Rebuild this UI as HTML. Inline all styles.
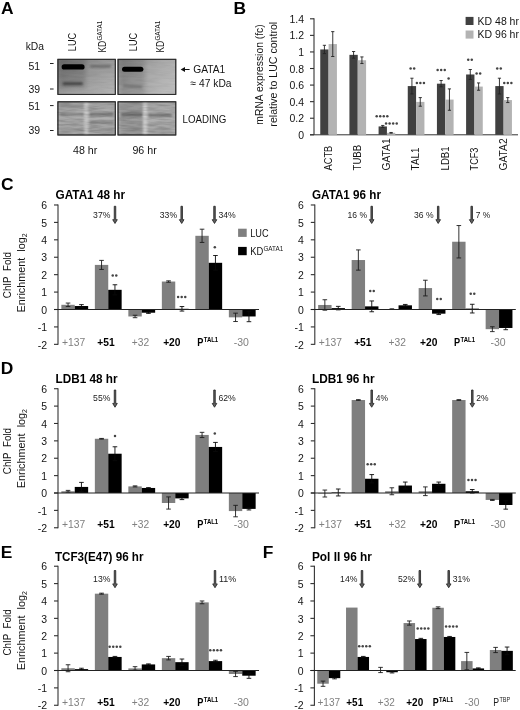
<!DOCTYPE html>
<html><head><meta charset="utf-8"><title>Figure</title>
<style>html,body{margin:0;padding:0;background:#fff;}svg{display:block;filter:grayscale(1);}svg text{font-family:"Liberation Sans",sans-serif;}</style></head>
<body>
<svg width="520" height="710" viewBox="0 0 520 710" font-family="Liberation Sans, sans-serif">
<defs>
<filter id="b1" x="-20%" y="-100%" width="140%" height="300%"><feGaussianBlur stdDeviation="0.7"/></filter>
<filter id="b2" x="-20%" y="-100%" width="140%" height="300%"><feGaussianBlur stdDeviation="1.1"/></filter>
<filter id="b4" x="-30%" y="-30%" width="160%" height="160%"><feGaussianBlur stdDeviation="2.2"/></filter>
<clipPath id="cu1"><rect x="57.9" y="59.4" width="57.4" height="35"/></clipPath><clipPath id="cu2"><rect x="118" y="59.4" width="57.8" height="35"/></clipPath>
<clipPath id="cl1"><rect x="57.9" y="101.8" width="57.4" height="33.2"/></clipPath><clipPath id="cl2"><rect x="118" y="101.8" width="57.8" height="33.2"/></clipPath>
<filter id="nz" x="0" y="0" width="100%" height="100%"><feTurbulence type="fractalNoise" baseFrequency="0.07 0.5" numOctaves="2" seed="7" result="t"/><feColorMatrix in="t" type="matrix" values="0 0 0 0 0  0 0 0 0 0  0 0 0 0 0  1.6 0 0 0 -0.55"/></filter>
<filter id="b3" x="-50%" y="-20%" width="200%" height="140%"><feGaussianBlur stdDeviation="1.2"/></filter>
<linearGradient id="gu1" x1="0" y1="0" x2="1" y2="1"><stop offset="0" stop-color="#757575"/><stop offset="0.45" stop-color="#989898"/><stop offset="1" stop-color="#b6b6b6"/></linearGradient>
<linearGradient id="gu2" x1="0" y1="0" x2="1" y2="0.6"><stop offset="0" stop-color="#858585"/><stop offset="0.4" stop-color="#a2a2a2"/><stop offset="1" stop-color="#bababa"/></linearGradient>
<linearGradient id="gl1" x1="0" y1="0" x2="0" y2="1"><stop offset="0" stop-color="#a6a6a6"/><stop offset="0.5" stop-color="#b0b0b0"/><stop offset="1" stop-color="#a8a8a8"/></linearGradient>
</defs>
<rect x="0" y="0" width="520" height="710" fill="#ffffff"/>
<text x="1.0" y="14.2" font-size="17.4" text-anchor="start" font-weight="bold" fill="#000">A</text>
<text x="233.5" y="14.0" font-size="17.4" text-anchor="start" font-weight="bold" fill="#000">B</text>
<text x="1.0" y="189.8" font-size="17.4" text-anchor="start" font-weight="bold" fill="#000">C</text>
<text x="0.8" y="373.6" font-size="17.4" text-anchor="start" font-weight="bold" fill="#000">D</text>
<text x="0.8" y="557.6" font-size="17.4" text-anchor="start" font-weight="bold" fill="#000">E</text>
<text x="262.7" y="557.6" font-size="17.4" text-anchor="start" font-weight="bold" fill="#000">F</text>
<text x="25.7" y="50.4" font-size="10.92" text-anchor="start" font-weight="normal" fill="#141414" textLength="18.33" lengthAdjust="spacingAndGlyphs">kDa</text>
<text x="28.4" y="69.8" font-size="10.92" text-anchor="start" font-weight="normal" fill="#141414" textLength="11.66" lengthAdjust="spacingAndGlyphs">51</text>
<text x="28.4" y="92.8" font-size="10.92" text-anchor="start" font-weight="normal" fill="#141414" textLength="11.66" lengthAdjust="spacingAndGlyphs">39</text>
<text x="28.4" y="109.6" font-size="10.92" text-anchor="start" font-weight="normal" fill="#141414" textLength="11.66" lengthAdjust="spacingAndGlyphs">51</text>
<text x="28.4" y="134.3" font-size="10.92" text-anchor="start" font-weight="normal" fill="#141414" textLength="11.66" lengthAdjust="spacingAndGlyphs">39</text>
<line x1="50.00" y1="63.50" x2="53.60" y2="63.50" stroke="#222" stroke-width="1.0"/>
<line x1="50.00" y1="89.00" x2="53.60" y2="89.00" stroke="#222" stroke-width="1.0"/>
<line x1="50.00" y1="105.60" x2="53.60" y2="105.60" stroke="#222" stroke-width="1.0"/>
<line x1="50.00" y1="130.50" x2="53.60" y2="130.50" stroke="#222" stroke-width="1.0"/>
<rect x="57.90" y="59.30" width="57.40" height="35.10" fill="url(#gu1)" stroke="#2a2a2a" stroke-width="0.9"/>
<g clip-path="url(#cu1)"><rect x="59" y="58" width="27" height="30" fill="#000" opacity="0.13" filter="url(#b4)"/></g>
<rect x="61.6" y="64.3" width="23" height="5.2" rx="2.6" fill="#000" filter="url(#b1)"/>
<rect x="62.5" y="82.1" width="20.5" height="3.2" rx="1.6" fill="#4a4a4a" filter="url(#b2)"/>
<rect x="90" y="65.1" width="21" height="2.4" rx="1.2" fill="#6a6a6a" filter="url(#b2)"/>
<rect x="118.00" y="59.30" width="57.80" height="35.10" fill="url(#gu2)" stroke="#2a2a2a" stroke-width="0.9"/>
<g clip-path="url(#cu2)"><rect x="120" y="58" width="25" height="38" fill="#000" opacity="0.12" filter="url(#b4)"/></g>
<rect x="122" y="66.8" width="21.4" height="5.0" rx="2.5" fill="#000" filter="url(#b1)"/>
<rect x="123" y="85.2" width="19" height="2.4" rx="1.2" fill="#707070" filter="url(#b2)" transform="rotate(3 132 86)"/>
<rect x="57.90" y="101.80" width="57.40" height="33.20" fill="url(#gl1)" stroke="#2a2a2a" stroke-width="0.9"/>
<g filter="url(#b2)">
<rect x="60.00" y="104.00" width="24.00" height="4.50" fill="#959595"/>
<rect x="60.00" y="113.20" width="24.00" height="2.60" fill="#858585"/>
<rect x="89.50" y="112.60" width="24.00" height="3.20" fill="#787878"/>
<rect x="60.00" y="120.60" width="24.00" height="1.60" fill="#979797"/>
<rect x="89.50" y="121.40" width="24.00" height="2.40" fill="#828282"/>
<rect x="60.00" y="124.80" width="24.00" height="1.60" fill="#959595"/>
<rect x="89.50" y="126.40" width="24.00" height="1.40" fill="#989898"/>
<rect x="60.00" y="129.40" width="54.00" height="1.80" fill="#929292"/>
</g>
<rect x="84.2" y="102.6" width="4.2" height="31.6" fill="#c9c9c9" filter="url(#b3)"/>
<rect x="118.00" y="101.80" width="57.80" height="33.20" fill="url(#gl1)" stroke="#2a2a2a" stroke-width="0.9"/>
<g clip-path="url(#cl2)"><rect x="120" y="100" width="23" height="38" fill="#000" opacity="0.10" filter="url(#b4)"/></g>
<g filter="url(#b2)">
<rect x="120.00" y="104.50" width="23.00" height="4.00" fill="#989898"/>
<rect x="121.00" y="113.00" width="22.00" height="3.40" fill="#6a6a6a"/>
<rect x="148.50" y="113.80" width="23.00" height="3.00" fill="#787878"/>
<rect x="121.00" y="121.80" width="22.00" height="1.80" fill="#909090"/>
<rect x="121.00" y="125.20" width="22.00" height="1.60" fill="#949494"/>
<rect x="148.50" y="123.00" width="23.00" height="1.60" fill="#999"/>
<rect x="121.00" y="129.00" width="50.00" height="1.70" fill="#959595"/>
</g>
<rect x="143.0" y="102.6" width="4.2" height="31.6" fill="#cecece" filter="url(#b3)"/>
<rect x="57.9" y="101.8" width="57.4" height="33.2" fill="#000" filter="url(#nz)" opacity="0.2"/>
<rect x="118.0" y="101.8" width="57.8" height="33.2" fill="#000" filter="url(#nz)" opacity="0.2"/>
<rect x="57.9" y="59.3" width="57.4" height="35.1" fill="#000" filter="url(#nz)" opacity="0.06"/>
<rect x="118.0" y="59.3" width="57.8" height="35.1" fill="#000" filter="url(#nz)" opacity="0.06"/>
<rect x="57.90" y="59.30" width="57.40" height="35.10" fill="none" stroke="#2a2a2a" stroke-width="0.9"/>
<rect x="57.90" y="101.80" width="57.40" height="33.20" fill="none" stroke="#2a2a2a" stroke-width="0.9"/>
<rect x="118.00" y="59.30" width="57.80" height="35.10" fill="none" stroke="#2a2a2a" stroke-width="0.9"/>
<rect x="118.00" y="101.80" width="57.80" height="33.20" fill="none" stroke="#2a2a2a" stroke-width="0.9"/>
<text x="76.2" y="51.2" font-size="10.92" text-anchor="start" font-weight="normal" fill="#141414" textLength="18.34" lengthAdjust="spacingAndGlyphs" transform="rotate(-90 76.2 51.2)">LUC</text>
<text x="136.6" y="51.2" font-size="10.92" text-anchor="start" font-weight="normal" fill="#141414" textLength="18.34" lengthAdjust="spacingAndGlyphs" transform="rotate(-90 136.6 51.2)">LUC</text>
<text x="106.0" y="52.6" font-size="10.92" fill="#141414" transform="rotate(-90 106.0 52.6)"><tspan textLength="11.80" lengthAdjust="spacingAndGlyphs">KD</tspan><tspan font-size="6.77" dy="-3.9" dx="0.2" textLength="19.84" lengthAdjust="spacingAndGlyphs">GATA1</tspan></text>
<text x="164.2" y="52.6" font-size="10.92" fill="#141414" transform="rotate(-90 164.2 52.6)"><tspan textLength="11.80" lengthAdjust="spacingAndGlyphs">KD</tspan><tspan font-size="6.77" dy="-3.9" dx="0.2" textLength="19.84" lengthAdjust="spacingAndGlyphs">GATA1</tspan></text>
<text x="73.0" y="153.8" font-size="10.92" text-anchor="start" font-weight="normal" fill="#141414" textLength="24.31" lengthAdjust="spacingAndGlyphs">48 hr</text>
<text x="132.4" y="153.8" font-size="10.92" text-anchor="start" font-weight="normal" fill="#141414" textLength="24.31" lengthAdjust="spacingAndGlyphs">96 hr</text>
<path d="M180.6,69.5 L185,67.0 L185,72.0 Z" fill="#111"/>
<line x1="184.50" y1="69.50" x2="189.60" y2="69.50" stroke="#111" stroke-width="1.0"/>
<text x="193.2" y="72.6" font-size="10.92" text-anchor="start" font-weight="normal" fill="#141414" textLength="32.0" lengthAdjust="spacingAndGlyphs">GATA1</text>
<text x="190.6" y="86.8" font-size="10.92" text-anchor="start" font-weight="normal" fill="#141414" textLength="40.92" lengthAdjust="spacingAndGlyphs">≈ 47 kDa</text>
<text x="182.6" y="122.8" font-size="10.92" text-anchor="start" font-weight="normal" fill="#141414" textLength="43.76" lengthAdjust="spacingAndGlyphs">LOADING</text>
<text x="304.0" y="138.9" font-size="10.92" text-anchor="end" font-weight="normal" fill="#141414" textLength="5.83" lengthAdjust="spacingAndGlyphs">0</text>
<line x1="310.00" y1="134.80" x2="314.00" y2="134.80" stroke="#2e2e2e" stroke-width="1.1"/>
<text x="304.0" y="122.328" font-size="10.92" text-anchor="end" font-weight="normal" fill="#141414" textLength="14.56" lengthAdjust="spacingAndGlyphs">0.2</text>
<line x1="310.00" y1="118.23" x2="314.00" y2="118.23" stroke="#2e2e2e" stroke-width="1.1"/>
<text x="304.0" y="105.756" font-size="10.92" text-anchor="end" font-weight="normal" fill="#141414" textLength="14.56" lengthAdjust="spacingAndGlyphs">0.4</text>
<line x1="310.00" y1="101.66" x2="314.00" y2="101.66" stroke="#2e2e2e" stroke-width="1.1"/>
<text x="304.0" y="89.184" font-size="10.92" text-anchor="end" font-weight="normal" fill="#141414" textLength="14.56" lengthAdjust="spacingAndGlyphs">0.6</text>
<line x1="310.00" y1="85.08" x2="314.00" y2="85.08" stroke="#2e2e2e" stroke-width="1.1"/>
<text x="304.0" y="72.61200000000001" font-size="10.92" text-anchor="end" font-weight="normal" fill="#141414" textLength="14.56" lengthAdjust="spacingAndGlyphs">0.8</text>
<line x1="310.00" y1="68.51" x2="314.00" y2="68.51" stroke="#2e2e2e" stroke-width="1.1"/>
<text x="304.0" y="56.04000000000001" font-size="10.92" text-anchor="end" font-weight="normal" fill="#141414" textLength="5.83" lengthAdjust="spacingAndGlyphs">1</text>
<line x1="310.00" y1="51.94" x2="314.00" y2="51.94" stroke="#2e2e2e" stroke-width="1.1"/>
<text x="304.0" y="39.467999999999996" font-size="10.92" text-anchor="end" font-weight="normal" fill="#141414" textLength="14.56" lengthAdjust="spacingAndGlyphs">1.2</text>
<line x1="310.00" y1="35.37" x2="314.00" y2="35.37" stroke="#2e2e2e" stroke-width="1.1"/>
<text x="304.0" y="22.896000000000008" font-size="10.92" text-anchor="end" font-weight="normal" fill="#141414" textLength="14.56" lengthAdjust="spacingAndGlyphs">1.4</text>
<line x1="310.00" y1="18.80" x2="314.00" y2="18.80" stroke="#2e2e2e" stroke-width="1.1"/>
<line x1="314.00" y1="18.30" x2="314.00" y2="134.80" stroke="#333" stroke-width="1.1"/>
<line x1="310.00" y1="134.80" x2="518.00" y2="134.80" stroke="#333" stroke-width="1.0"/>
<rect x="320.25" y="49.45" width="8.33" height="85.35" fill="#404040"/>
<rect x="328.59" y="44.07" width="8.33" height="90.73" fill="#b3b3b3"/>
<line x1="324.42" y1="45.31" x2="324.42" y2="53.60" stroke="#222" stroke-width="0.9"/>
<line x1="322.82" y1="45.31" x2="326.02" y2="45.31" stroke="#222" stroke-width="0.9"/>
<line x1="322.82" y1="53.60" x2="326.02" y2="53.60" stroke="#222" stroke-width="0.9"/>
<line x1="332.75" y1="31.64" x2="332.75" y2="56.50" stroke="#222" stroke-width="0.9"/>
<line x1="331.15" y1="31.64" x2="334.35" y2="31.64" stroke="#222" stroke-width="0.9"/>
<line x1="331.15" y1="56.50" x2="334.35" y2="56.50" stroke="#222" stroke-width="0.9"/>
<text x="331.89" y="170.4" font-size="10.92" text-anchor="start" font-weight="normal" fill="#141414" textLength="24.64" lengthAdjust="spacingAndGlyphs" transform="rotate(-90 331.89 170.4)">ACTB</text>
<rect x="349.42" y="54.84" width="8.33" height="79.96" fill="#404040"/>
<rect x="357.76" y="60.23" width="8.33" height="74.57" fill="#b3b3b3"/>
<line x1="353.59" y1="51.53" x2="353.59" y2="58.15" stroke="#222" stroke-width="0.9"/>
<line x1="351.99" y1="51.53" x2="355.19" y2="51.53" stroke="#222" stroke-width="0.9"/>
<line x1="351.99" y1="58.15" x2="355.19" y2="58.15" stroke="#222" stroke-width="0.9"/>
<line x1="361.92" y1="56.91" x2="361.92" y2="63.54" stroke="#222" stroke-width="0.9"/>
<line x1="360.32" y1="56.91" x2="363.52" y2="56.91" stroke="#222" stroke-width="0.9"/>
<line x1="360.32" y1="63.54" x2="363.52" y2="63.54" stroke="#222" stroke-width="0.9"/>
<text x="361.06" y="170.4" font-size="10.92" text-anchor="start" font-weight="normal" fill="#141414" textLength="25.5" lengthAdjust="spacingAndGlyphs" transform="rotate(-90 361.06 170.4)">TUBB</text>
<rect x="378.59" y="126.43" width="8.33" height="8.37" fill="#404040"/>
<rect x="386.93" y="132.81" width="8.33" height="1.99" fill="#b3b3b3"/>
<line x1="382.76" y1="125.44" x2="382.76" y2="127.43" stroke="#222" stroke-width="0.9"/>
<line x1="381.16" y1="125.44" x2="384.36" y2="125.44" stroke="#222" stroke-width="0.9"/>
<line x1="381.16" y1="127.43" x2="384.36" y2="127.43" stroke="#222" stroke-width="0.9"/>
<line x1="391.09" y1="132.48" x2="391.09" y2="133.14" stroke="#222" stroke-width="0.9"/>
<line x1="389.49" y1="132.48" x2="392.69" y2="132.48" stroke="#222" stroke-width="0.9"/>
<line x1="389.49" y1="133.14" x2="392.69" y2="133.14" stroke="#222" stroke-width="0.9"/>
<text x="390.23" y="170.4" font-size="10.92" text-anchor="start" font-weight="normal" fill="#141414" textLength="32.0" lengthAdjust="spacingAndGlyphs" transform="rotate(-90 390.23 170.4)">GATA1</text>
<rect x="407.76" y="86.08" width="8.33" height="48.72" fill="#404040"/>
<rect x="416.10" y="101.90" width="8.33" height="32.90" fill="#b3b3b3"/>
<line x1="411.93" y1="78.21" x2="411.93" y2="93.95" stroke="#222" stroke-width="0.9"/>
<line x1="410.33" y1="78.21" x2="413.53" y2="78.21" stroke="#222" stroke-width="0.9"/>
<line x1="410.33" y1="93.95" x2="413.53" y2="93.95" stroke="#222" stroke-width="0.9"/>
<line x1="420.26" y1="97.60" x2="420.26" y2="106.21" stroke="#222" stroke-width="0.9"/>
<line x1="418.66" y1="97.60" x2="421.86" y2="97.60" stroke="#222" stroke-width="0.9"/>
<line x1="418.66" y1="106.21" x2="421.86" y2="106.21" stroke="#222" stroke-width="0.9"/>
<text x="419.40" y="170.4" font-size="10.92" text-anchor="start" font-weight="normal" fill="#141414" textLength="22.92" lengthAdjust="spacingAndGlyphs" transform="rotate(-90 419.40 170.4)">TAL1</text>
<rect x="436.93" y="83.68" width="8.33" height="51.12" fill="#404040"/>
<rect x="445.27" y="99.58" width="8.33" height="35.22" fill="#b3b3b3"/>
<line x1="441.10" y1="80.53" x2="441.10" y2="86.82" stroke="#222" stroke-width="0.9"/>
<line x1="439.50" y1="80.53" x2="442.70" y2="80.53" stroke="#222" stroke-width="0.9"/>
<line x1="439.50" y1="86.82" x2="442.70" y2="86.82" stroke="#222" stroke-width="0.9"/>
<line x1="449.43" y1="88.90" x2="449.43" y2="110.27" stroke="#222" stroke-width="0.9"/>
<line x1="447.83" y1="88.90" x2="451.03" y2="88.90" stroke="#222" stroke-width="0.9"/>
<line x1="447.83" y1="110.27" x2="451.03" y2="110.27" stroke="#222" stroke-width="0.9"/>
<text x="448.57" y="170.4" font-size="10.92" text-anchor="start" font-weight="normal" fill="#141414" textLength="23.99" lengthAdjust="spacingAndGlyphs" transform="rotate(-90 448.57 170.4)">LDB1</text>
<rect x="466.10" y="74.48" width="8.33" height="60.32" fill="#404040"/>
<rect x="474.44" y="86.58" width="8.33" height="48.22" fill="#b3b3b3"/>
<line x1="470.27" y1="69.51" x2="470.27" y2="79.45" stroke="#222" stroke-width="0.9"/>
<line x1="468.67" y1="69.51" x2="471.87" y2="69.51" stroke="#222" stroke-width="0.9"/>
<line x1="468.67" y1="79.45" x2="471.87" y2="79.45" stroke="#222" stroke-width="0.9"/>
<line x1="478.60" y1="82.93" x2="478.60" y2="90.22" stroke="#222" stroke-width="0.9"/>
<line x1="477.00" y1="82.93" x2="480.20" y2="82.93" stroke="#222" stroke-width="0.9"/>
<line x1="477.00" y1="90.22" x2="480.20" y2="90.22" stroke="#222" stroke-width="0.9"/>
<text x="477.74" y="170.4" font-size="10.92" text-anchor="start" font-weight="normal" fill="#141414" textLength="22.84" lengthAdjust="spacingAndGlyphs" transform="rotate(-90 477.74 170.4)">TCF3</text>
<rect x="495.27" y="86.08" width="8.33" height="48.72" fill="#404040"/>
<rect x="503.61" y="100.08" width="8.33" height="34.72" fill="#b3b3b3"/>
<line x1="499.44" y1="78.21" x2="499.44" y2="93.95" stroke="#222" stroke-width="0.9"/>
<line x1="497.84" y1="78.21" x2="501.04" y2="78.21" stroke="#222" stroke-width="0.9"/>
<line x1="497.84" y1="93.95" x2="501.04" y2="93.95" stroke="#222" stroke-width="0.9"/>
<line x1="507.77" y1="97.60" x2="507.77" y2="102.57" stroke="#222" stroke-width="0.9"/>
<line x1="506.17" y1="97.60" x2="509.37" y2="97.60" stroke="#222" stroke-width="0.9"/>
<line x1="506.17" y1="102.57" x2="509.37" y2="102.57" stroke="#222" stroke-width="0.9"/>
<text x="506.91" y="170.4" font-size="10.92" text-anchor="start" font-weight="normal" fill="#141414" textLength="32.0" lengthAdjust="spacingAndGlyphs" transform="rotate(-90 506.91 170.4)">GATA2</text>
<circle cx="410.62" cy="68.60" r="1.25" fill="#444"/>
<circle cx="414.18" cy="68.60" r="1.25" fill="#444"/>
<circle cx="416.85" cy="83.00" r="1.25" fill="#444"/>
<circle cx="420.40" cy="83.00" r="1.25" fill="#444"/>
<circle cx="423.95" cy="83.00" r="1.25" fill="#444"/>
<circle cx="437.65" cy="70.00" r="1.25" fill="#444"/>
<circle cx="441.20" cy="70.00" r="1.25" fill="#444"/>
<circle cx="444.75" cy="70.00" r="1.25" fill="#444"/>
<circle cx="448.60" cy="78.50" r="1.25" fill="#444"/>
<circle cx="468.23" cy="59.70" r="1.25" fill="#444"/>
<circle cx="471.78" cy="59.70" r="1.25" fill="#444"/>
<circle cx="476.62" cy="73.50" r="1.25" fill="#444"/>
<circle cx="480.18" cy="73.50" r="1.25" fill="#444"/>
<circle cx="497.23" cy="68.60" r="1.25" fill="#444"/>
<circle cx="500.78" cy="68.60" r="1.25" fill="#444"/>
<circle cx="504.25" cy="83.00" r="1.25" fill="#444"/>
<circle cx="507.80" cy="83.00" r="1.25" fill="#444"/>
<circle cx="511.35" cy="83.00" r="1.25" fill="#444"/>
<circle cx="376.68" cy="116.20" r="1.25" fill="#444"/>
<circle cx="380.23" cy="116.20" r="1.25" fill="#444"/>
<circle cx="383.78" cy="116.20" r="1.25" fill="#444"/>
<circle cx="387.32" cy="116.20" r="1.25" fill="#444"/>
<circle cx="386.07" cy="123.40" r="1.25" fill="#444"/>
<circle cx="389.62" cy="123.40" r="1.25" fill="#444"/>
<circle cx="393.18" cy="123.40" r="1.25" fill="#444"/>
<circle cx="396.72" cy="123.40" r="1.25" fill="#444"/>
<rect x="465.60" y="16.90" width="7.90" height="8.10" fill="#404040"/>
<rect x="465.60" y="30.50" width="7.90" height="8.10" fill="#b3b3b3"/>
<text x="477.6" y="24.6" font-size="11.3" text-anchor="start" font-weight="normal" fill="#141414" textLength="41.35" lengthAdjust="spacingAndGlyphs">KD 48 hr</text>
<text x="477.6" y="38.4" font-size="11.3" text-anchor="start" font-weight="normal" fill="#141414" textLength="41.35" lengthAdjust="spacingAndGlyphs">KD 96 hr</text>
<text x="262.8" y="74.5" font-size="10.92" text-anchor="middle" font-weight="normal" fill="#141414" textLength="100.27" lengthAdjust="spacingAndGlyphs" transform="rotate(-90 262.8 74.5)">mRNA expression (fc)</text>
<text x="277.2" y="74.2" font-size="10.92" text-anchor="middle" font-weight="normal" fill="#141414" textLength="104.87" lengthAdjust="spacingAndGlyphs" transform="rotate(-90 277.2 74.2)">relative to LUC control</text>
<line x1="58.00" y1="204.48" x2="58.00" y2="344.84" stroke="#333" stroke-width="1.1"/>
<line x1="54.00" y1="344.34" x2="58.00" y2="344.34" stroke="#2e2e2e" stroke-width="1.1"/>
<text x="47.10" y="348.54" font-size="10.92" text-anchor="end" font-weight="normal" fill="#141414" textLength="9.35" lengthAdjust="spacingAndGlyphs">-2</text>
<line x1="54.00" y1="326.92" x2="58.00" y2="326.92" stroke="#2e2e2e" stroke-width="1.1"/>
<text x="47.10" y="331.12" font-size="10.92" text-anchor="end" font-weight="normal" fill="#141414" textLength="9.35" lengthAdjust="spacingAndGlyphs">-1</text>
<line x1="54.00" y1="309.50" x2="58.00" y2="309.50" stroke="#2e2e2e" stroke-width="1.1"/>
<text x="47.10" y="313.70" font-size="10.92" text-anchor="end" font-weight="normal" fill="#141414" textLength="5.83" lengthAdjust="spacingAndGlyphs">0</text>
<line x1="54.00" y1="292.08" x2="58.00" y2="292.08" stroke="#2e2e2e" stroke-width="1.1"/>
<text x="47.10" y="296.28" font-size="10.92" text-anchor="end" font-weight="normal" fill="#141414" textLength="5.83" lengthAdjust="spacingAndGlyphs">1</text>
<line x1="54.00" y1="274.66" x2="58.00" y2="274.66" stroke="#2e2e2e" stroke-width="1.1"/>
<text x="47.10" y="278.86" font-size="10.92" text-anchor="end" font-weight="normal" fill="#141414" textLength="5.83" lengthAdjust="spacingAndGlyphs">2</text>
<line x1="54.00" y1="257.24" x2="58.00" y2="257.24" stroke="#2e2e2e" stroke-width="1.1"/>
<text x="47.10" y="261.44" font-size="10.92" text-anchor="end" font-weight="normal" fill="#141414" textLength="5.83" lengthAdjust="spacingAndGlyphs">3</text>
<line x1="54.00" y1="239.82" x2="58.00" y2="239.82" stroke="#2e2e2e" stroke-width="1.1"/>
<text x="47.10" y="244.02" font-size="10.92" text-anchor="end" font-weight="normal" fill="#141414" textLength="5.83" lengthAdjust="spacingAndGlyphs">4</text>
<line x1="54.00" y1="222.40" x2="58.00" y2="222.40" stroke="#2e2e2e" stroke-width="1.1"/>
<text x="47.10" y="226.60" font-size="10.92" text-anchor="end" font-weight="normal" fill="#141414" textLength="5.83" lengthAdjust="spacingAndGlyphs">5</text>
<line x1="54.00" y1="204.98" x2="58.00" y2="204.98" stroke="#2e2e2e" stroke-width="1.1"/>
<text x="47.10" y="209.18" font-size="10.92" text-anchor="end" font-weight="normal" fill="#141414" textLength="5.83" lengthAdjust="spacingAndGlyphs">6</text>
<rect x="61.35" y="304.80" width="13.40" height="4.70" fill="#7f7f7f"/>
<rect x="74.75" y="306.02" width="13.40" height="3.48" fill="#000000"/>
<line x1="68.05" y1="303.05" x2="68.05" y2="306.54" stroke="#1c1c1c" stroke-width="0.9"/>
<line x1="65.75" y1="303.05" x2="70.35" y2="303.05" stroke="#1c1c1c" stroke-width="0.9"/>
<line x1="65.75" y1="306.54" x2="70.35" y2="306.54" stroke="#1c1c1c" stroke-width="0.9"/>
<line x1="81.45" y1="304.62" x2="81.45" y2="307.41" stroke="#0a0a0a" stroke-width="0.9"/>
<line x1="79.15" y1="304.62" x2="83.75" y2="304.62" stroke="#0a0a0a" stroke-width="0.9"/>
<line x1="79.15" y1="307.41" x2="83.75" y2="307.41" stroke="#0a0a0a" stroke-width="0.9"/>
<rect x="94.85" y="264.90" width="13.40" height="44.60" fill="#7f7f7f"/>
<rect x="108.25" y="289.82" width="13.40" height="19.68" fill="#000000"/>
<line x1="101.55" y1="260.38" x2="101.55" y2="269.43" stroke="#1c1c1c" stroke-width="0.9"/>
<line x1="99.25" y1="260.38" x2="103.85" y2="260.38" stroke="#1c1c1c" stroke-width="0.9"/>
<line x1="99.25" y1="269.43" x2="103.85" y2="269.43" stroke="#1c1c1c" stroke-width="0.9"/>
<line x1="114.95" y1="284.76" x2="114.95" y2="294.87" stroke="#0a0a0a" stroke-width="0.9"/>
<line x1="112.65" y1="284.76" x2="117.25" y2="284.76" stroke="#0a0a0a" stroke-width="0.9"/>
<line x1="112.65" y1="294.87" x2="117.25" y2="294.87" stroke="#0a0a0a" stroke-width="0.9"/>
<rect x="128.35" y="309.50" width="13.40" height="6.97" fill="#7f7f7f"/>
<rect x="141.75" y="309.50" width="13.40" height="3.22" fill="#000000"/>
<line x1="135.05" y1="315.25" x2="135.05" y2="317.69" stroke="#1c1c1c" stroke-width="0.9"/>
<line x1="132.75" y1="315.25" x2="137.35" y2="315.25" stroke="#1c1c1c" stroke-width="0.9"/>
<line x1="132.75" y1="317.69" x2="137.35" y2="317.69" stroke="#1c1c1c" stroke-width="0.9"/>
<line x1="148.45" y1="312.03" x2="148.45" y2="313.42" stroke="#0a0a0a" stroke-width="0.9"/>
<line x1="146.15" y1="312.03" x2="150.75" y2="312.03" stroke="#0a0a0a" stroke-width="0.9"/>
<line x1="146.15" y1="313.42" x2="150.75" y2="313.42" stroke="#0a0a0a" stroke-width="0.9"/>
<rect x="161.85" y="281.54" width="13.40" height="27.96" fill="#7f7f7f"/>
<rect x="175.25" y="308.80" width="13.40" height="0.70" fill="#000000"/>
<line x1="168.55" y1="280.84" x2="168.55" y2="282.24" stroke="#1c1c1c" stroke-width="0.9"/>
<line x1="166.25" y1="280.84" x2="170.85" y2="280.84" stroke="#1c1c1c" stroke-width="0.9"/>
<line x1="166.25" y1="282.24" x2="170.85" y2="282.24" stroke="#1c1c1c" stroke-width="0.9"/>
<line x1="181.95" y1="306.54" x2="181.95" y2="311.07" stroke="#0a0a0a" stroke-width="0.9"/>
<line x1="179.65" y1="306.54" x2="184.25" y2="306.54" stroke="#0a0a0a" stroke-width="0.9"/>
<line x1="179.65" y1="311.07" x2="184.25" y2="311.07" stroke="#0a0a0a" stroke-width="0.9"/>
<rect x="195.35" y="235.81" width="13.40" height="73.69" fill="#7f7f7f"/>
<rect x="208.75" y="262.81" width="13.40" height="46.69" fill="#000000"/>
<line x1="202.05" y1="229.19" x2="202.05" y2="242.43" stroke="#1c1c1c" stroke-width="0.9"/>
<line x1="199.75" y1="229.19" x2="204.35" y2="229.19" stroke="#1c1c1c" stroke-width="0.9"/>
<line x1="199.75" y1="242.43" x2="204.35" y2="242.43" stroke="#1c1c1c" stroke-width="0.9"/>
<line x1="215.45" y1="255.50" x2="215.45" y2="270.13" stroke="#0a0a0a" stroke-width="0.9"/>
<line x1="213.15" y1="255.50" x2="217.75" y2="255.50" stroke="#0a0a0a" stroke-width="0.9"/>
<line x1="213.15" y1="270.13" x2="217.75" y2="270.13" stroke="#0a0a0a" stroke-width="0.9"/>
<rect x="228.85" y="309.50" width="13.40" height="7.84" fill="#7f7f7f"/>
<rect x="242.25" y="309.50" width="13.40" height="6.97" fill="#000000"/>
<line x1="235.55" y1="313.16" x2="235.55" y2="321.52" stroke="#1c1c1c" stroke-width="0.9"/>
<line x1="233.25" y1="313.16" x2="237.85" y2="313.16" stroke="#1c1c1c" stroke-width="0.9"/>
<line x1="233.25" y1="321.52" x2="237.85" y2="321.52" stroke="#1c1c1c" stroke-width="0.9"/>
<line x1="248.95" y1="311.24" x2="248.95" y2="321.69" stroke="#0a0a0a" stroke-width="0.9"/>
<line x1="246.65" y1="311.24" x2="251.25" y2="311.24" stroke="#0a0a0a" stroke-width="0.9"/>
<line x1="246.65" y1="321.69" x2="251.25" y2="321.69" stroke="#0a0a0a" stroke-width="0.9"/>
<line x1="54.00" y1="309.50" x2="259.00" y2="309.50" stroke="#222" stroke-width="1.0"/>
<text x="55.6" y="198.58" font-size="12.4" text-anchor="start" font-weight="bold" fill="#000" textLength="69.4" lengthAdjust="spacingAndGlyphs">GATA1 48 hr</text>
<text x="73.55" y="346.1" font-size="10.92" text-anchor="middle" font-weight="normal" fill="#808080" textLength="23.22" lengthAdjust="spacingAndGlyphs">+137</text>
<text x="106.05" y="346.1" font-size="10.92" text-anchor="middle" font-weight="bold" fill="#000" textLength="17.39" lengthAdjust="spacingAndGlyphs">+51</text>
<text x="140.45" y="346.1" font-size="10.92" text-anchor="middle" font-weight="normal" fill="#808080" textLength="17.39" lengthAdjust="spacingAndGlyphs">+32</text>
<text x="171.85" y="346.1" font-size="10.92" text-anchor="middle" font-weight="bold" fill="#000" textLength="17.39" lengthAdjust="spacingAndGlyphs">+20</text>
<text x="197.30" y="346.1" font-size="10.92" font-weight="bold" fill="#000"><tspan textLength="6.12" lengthAdjust="spacingAndGlyphs">P</tspan><tspan font-size="6.77" dy="-3.9" dx="0.3" textLength="14.48" lengthAdjust="spacingAndGlyphs">TAL1</tspan></text>
<text x="241.25" y="346.1" font-size="10.92" text-anchor="middle" font-weight="normal" fill="#808080" textLength="15.18" lengthAdjust="spacingAndGlyphs">-30</text>
<path d="M114.25,206.28 L115.75,206.28 L115.75,219.68 L117.30,219.68 L115.00,223.48 L112.70,219.68 L114.25,219.68 Z" fill="#606060" stroke="#262626" stroke-width="0.85" stroke-linejoin="miter"/>
<text x="110.40" y="217.68" font-size="9.5" text-anchor="end" font-weight="normal" fill="#222" textLength="17.29" lengthAdjust="spacingAndGlyphs">37%</text>
<path d="M180.95,206.28 L182.45,206.28 L182.45,219.68 L184.00,219.68 L181.70,223.48 L179.40,219.68 L180.95,219.68 Z" fill="#606060" stroke="#262626" stroke-width="0.85" stroke-linejoin="miter"/>
<text x="177.10" y="217.68" font-size="9.5" text-anchor="end" font-weight="normal" fill="#222" textLength="17.29" lengthAdjust="spacingAndGlyphs">33%</text>
<path d="M213.75,206.28 L215.25,206.28 L215.25,219.68 L216.80,219.68 L214.50,223.48 L212.20,219.68 L213.75,219.68 Z" fill="#606060" stroke="#262626" stroke-width="0.85" stroke-linejoin="miter"/>
<text x="218.50" y="217.68" font-size="9.5" text-anchor="start" font-weight="normal" fill="#222" textLength="17.29" lengthAdjust="spacingAndGlyphs">34%</text>
<circle cx="112.72" cy="275.50" r="1.25" fill="#444"/>
<circle cx="116.27" cy="275.50" r="1.25" fill="#444"/>
<circle cx="178.15" cy="297.00" r="1.25" fill="#444"/>
<circle cx="181.70" cy="297.00" r="1.25" fill="#444"/>
<circle cx="185.25" cy="297.00" r="1.25" fill="#444"/>
<circle cx="214.80" cy="247.30" r="1.25" fill="#444"/>
<text x="10.8" y="275.1" font-size="10.92" text-anchor="middle" font-weight="normal" fill="#141414" textLength="46.22" lengthAdjust="spacingAndGlyphs" transform="rotate(-90 10.8 275.1)">ChIP  Fold</text>
<text x="24.6" y="272.9" font-size="10.92" text-anchor="start" fill="#141414" transform="rotate(-90 24.6 272.9) translate(-39.54 0)"><tspan textLength="75.23" lengthAdjust="spacingAndGlyphs">Enrichment  log</tspan><tspan font-size="6.84" dy="2" textLength="3.85" lengthAdjust="spacingAndGlyphs">2</tspan></text>
<rect x="238.10" y="228.70" width="8.60" height="8.20" fill="#7f7f7f"/>
<rect x="238.10" y="246.90" width="8.60" height="8.30" fill="#000000"/>
<text x="250.2" y="236.9" font-size="10.92" text-anchor="start" font-weight="normal" fill="#141414" textLength="18.34" lengthAdjust="spacingAndGlyphs">LUC</text>
<text x="250.2" y="254.9" font-size="10.92" fill="#141414"><tspan textLength="13.05" lengthAdjust="spacingAndGlyphs">KD</tspan><tspan font-size="6.77" dy="-3.9" dx="0.2" textLength="19.84" lengthAdjust="spacingAndGlyphs">GATA1</tspan></text>
<line x1="314.80" y1="204.48" x2="314.80" y2="344.84" stroke="#333" stroke-width="1.1"/>
<line x1="310.80" y1="344.34" x2="314.80" y2="344.34" stroke="#2e2e2e" stroke-width="1.1"/>
<text x="303.90" y="348.54" font-size="10.92" text-anchor="end" font-weight="normal" fill="#141414" textLength="9.35" lengthAdjust="spacingAndGlyphs">-2</text>
<line x1="310.80" y1="326.92" x2="314.80" y2="326.92" stroke="#2e2e2e" stroke-width="1.1"/>
<text x="303.90" y="331.12" font-size="10.92" text-anchor="end" font-weight="normal" fill="#141414" textLength="9.35" lengthAdjust="spacingAndGlyphs">-1</text>
<line x1="310.80" y1="309.50" x2="314.80" y2="309.50" stroke="#2e2e2e" stroke-width="1.1"/>
<text x="303.90" y="313.70" font-size="10.92" text-anchor="end" font-weight="normal" fill="#141414" textLength="5.83" lengthAdjust="spacingAndGlyphs">0</text>
<line x1="310.80" y1="292.08" x2="314.80" y2="292.08" stroke="#2e2e2e" stroke-width="1.1"/>
<text x="303.90" y="296.28" font-size="10.92" text-anchor="end" font-weight="normal" fill="#141414" textLength="5.83" lengthAdjust="spacingAndGlyphs">1</text>
<line x1="310.80" y1="274.66" x2="314.80" y2="274.66" stroke="#2e2e2e" stroke-width="1.1"/>
<text x="303.90" y="278.86" font-size="10.92" text-anchor="end" font-weight="normal" fill="#141414" textLength="5.83" lengthAdjust="spacingAndGlyphs">2</text>
<line x1="310.80" y1="257.24" x2="314.80" y2="257.24" stroke="#2e2e2e" stroke-width="1.1"/>
<text x="303.90" y="261.44" font-size="10.92" text-anchor="end" font-weight="normal" fill="#141414" textLength="5.83" lengthAdjust="spacingAndGlyphs">3</text>
<line x1="310.80" y1="239.82" x2="314.80" y2="239.82" stroke="#2e2e2e" stroke-width="1.1"/>
<text x="303.90" y="244.02" font-size="10.92" text-anchor="end" font-weight="normal" fill="#141414" textLength="5.83" lengthAdjust="spacingAndGlyphs">4</text>
<line x1="310.80" y1="222.40" x2="314.80" y2="222.40" stroke="#2e2e2e" stroke-width="1.1"/>
<text x="303.90" y="226.60" font-size="10.92" text-anchor="end" font-weight="normal" fill="#141414" textLength="5.83" lengthAdjust="spacingAndGlyphs">5</text>
<line x1="310.80" y1="204.98" x2="314.80" y2="204.98" stroke="#2e2e2e" stroke-width="1.1"/>
<text x="303.90" y="209.18" font-size="10.92" text-anchor="end" font-weight="normal" fill="#141414" textLength="5.83" lengthAdjust="spacingAndGlyphs">6</text>
<rect x="318.15" y="304.97" width="13.40" height="4.53" fill="#7f7f7f"/>
<rect x="331.55" y="308.11" width="13.40" height="1.39" fill="#000000"/>
<line x1="324.85" y1="299.74" x2="324.85" y2="310.20" stroke="#1c1c1c" stroke-width="0.9"/>
<line x1="322.55" y1="299.74" x2="327.15" y2="299.74" stroke="#1c1c1c" stroke-width="0.9"/>
<line x1="322.55" y1="310.20" x2="327.15" y2="310.20" stroke="#1c1c1c" stroke-width="0.9"/>
<line x1="338.25" y1="306.36" x2="338.25" y2="309.85" stroke="#0a0a0a" stroke-width="0.9"/>
<line x1="335.95" y1="306.36" x2="340.55" y2="306.36" stroke="#0a0a0a" stroke-width="0.9"/>
<line x1="335.95" y1="309.85" x2="340.55" y2="309.85" stroke="#0a0a0a" stroke-width="0.9"/>
<rect x="351.65" y="260.03" width="13.40" height="49.47" fill="#7f7f7f"/>
<rect x="365.05" y="306.36" width="13.40" height="3.14" fill="#000000"/>
<line x1="358.35" y1="249.92" x2="358.35" y2="270.13" stroke="#1c1c1c" stroke-width="0.9"/>
<line x1="356.05" y1="249.92" x2="360.65" y2="249.92" stroke="#1c1c1c" stroke-width="0.9"/>
<line x1="356.05" y1="270.13" x2="360.65" y2="270.13" stroke="#1c1c1c" stroke-width="0.9"/>
<line x1="371.75" y1="300.96" x2="371.75" y2="311.76" stroke="#0a0a0a" stroke-width="0.9"/>
<line x1="369.45" y1="300.96" x2="374.05" y2="300.96" stroke="#0a0a0a" stroke-width="0.9"/>
<line x1="369.45" y1="311.76" x2="374.05" y2="311.76" stroke="#0a0a0a" stroke-width="0.9"/>
<rect x="385.15" y="309.15" width="13.40" height="0.35" fill="#7f7f7f"/>
<rect x="398.55" y="305.32" width="13.40" height="4.18" fill="#000000"/>
<line x1="391.85" y1="308.80" x2="391.85" y2="309.50" stroke="#1c1c1c" stroke-width="0.9"/>
<line x1="389.55" y1="308.80" x2="394.15" y2="308.80" stroke="#1c1c1c" stroke-width="0.9"/>
<line x1="389.55" y1="309.50" x2="394.15" y2="309.50" stroke="#1c1c1c" stroke-width="0.9"/>
<line x1="405.25" y1="304.45" x2="405.25" y2="306.19" stroke="#0a0a0a" stroke-width="0.9"/>
<line x1="402.95" y1="304.45" x2="407.55" y2="304.45" stroke="#0a0a0a" stroke-width="0.9"/>
<line x1="402.95" y1="306.19" x2="407.55" y2="306.19" stroke="#0a0a0a" stroke-width="0.9"/>
<rect x="418.65" y="288.07" width="13.40" height="21.43" fill="#7f7f7f"/>
<rect x="432.05" y="309.50" width="13.40" height="4.18" fill="#000000"/>
<line x1="425.35" y1="280.23" x2="425.35" y2="295.91" stroke="#1c1c1c" stroke-width="0.9"/>
<line x1="423.05" y1="280.23" x2="427.65" y2="280.23" stroke="#1c1c1c" stroke-width="0.9"/>
<line x1="423.05" y1="295.91" x2="427.65" y2="295.91" stroke="#1c1c1c" stroke-width="0.9"/>
<line x1="438.75" y1="312.81" x2="438.75" y2="314.55" stroke="#0a0a0a" stroke-width="0.9"/>
<line x1="436.45" y1="312.81" x2="441.05" y2="312.81" stroke="#0a0a0a" stroke-width="0.9"/>
<line x1="436.45" y1="314.55" x2="441.05" y2="314.55" stroke="#0a0a0a" stroke-width="0.9"/>
<rect x="452.15" y="241.74" width="13.40" height="67.76" fill="#7f7f7f"/>
<rect x="465.55" y="308.63" width="13.40" height="0.87" fill="#000000"/>
<line x1="458.85" y1="225.54" x2="458.85" y2="257.94" stroke="#1c1c1c" stroke-width="0.9"/>
<line x1="456.55" y1="225.54" x2="461.15" y2="225.54" stroke="#1c1c1c" stroke-width="0.9"/>
<line x1="456.55" y1="257.94" x2="461.15" y2="257.94" stroke="#1c1c1c" stroke-width="0.9"/>
<line x1="472.25" y1="304.27" x2="472.25" y2="312.98" stroke="#0a0a0a" stroke-width="0.9"/>
<line x1="469.95" y1="304.27" x2="474.55" y2="304.27" stroke="#0a0a0a" stroke-width="0.9"/>
<line x1="469.95" y1="312.98" x2="474.55" y2="312.98" stroke="#0a0a0a" stroke-width="0.9"/>
<rect x="485.65" y="309.50" width="13.40" height="19.68" fill="#7f7f7f"/>
<rect x="499.05" y="309.50" width="13.40" height="18.47" fill="#000000"/>
<line x1="492.35" y1="326.75" x2="492.35" y2="331.62" stroke="#1c1c1c" stroke-width="0.9"/>
<line x1="490.05" y1="326.75" x2="494.65" y2="326.75" stroke="#1c1c1c" stroke-width="0.9"/>
<line x1="490.05" y1="331.62" x2="494.65" y2="331.62" stroke="#1c1c1c" stroke-width="0.9"/>
<line x1="505.75" y1="326.22" x2="505.75" y2="329.71" stroke="#0a0a0a" stroke-width="0.9"/>
<line x1="503.45" y1="326.22" x2="508.05" y2="326.22" stroke="#0a0a0a" stroke-width="0.9"/>
<line x1="503.45" y1="329.71" x2="508.05" y2="329.71" stroke="#0a0a0a" stroke-width="0.9"/>
<line x1="310.80" y1="309.50" x2="515.80" y2="309.50" stroke="#222" stroke-width="1.0"/>
<text x="312" y="198.58" font-size="12.4" text-anchor="start" font-weight="bold" fill="#000" textLength="69" lengthAdjust="spacingAndGlyphs">GATA1 96 hr</text>
<text x="330.35" y="346.1" font-size="10.92" text-anchor="middle" font-weight="normal" fill="#808080" textLength="23.22" lengthAdjust="spacingAndGlyphs">+137</text>
<text x="362.85" y="346.1" font-size="10.92" text-anchor="middle" font-weight="bold" fill="#000" textLength="17.39" lengthAdjust="spacingAndGlyphs">+51</text>
<text x="397.25" y="346.1" font-size="10.92" text-anchor="middle" font-weight="normal" fill="#808080" textLength="17.39" lengthAdjust="spacingAndGlyphs">+32</text>
<text x="428.65" y="346.1" font-size="10.92" text-anchor="middle" font-weight="bold" fill="#000" textLength="17.39" lengthAdjust="spacingAndGlyphs">+20</text>
<text x="454.10" y="346.1" font-size="10.92" font-weight="bold" fill="#000"><tspan textLength="6.12" lengthAdjust="spacingAndGlyphs">P</tspan><tspan font-size="6.77" dy="-3.9" dx="0.3" textLength="14.48" lengthAdjust="spacingAndGlyphs">TAL1</tspan></text>
<text x="498.05" y="346.1" font-size="10.92" text-anchor="middle" font-weight="normal" fill="#808080" textLength="15.18" lengthAdjust="spacingAndGlyphs">-30</text>
<path d="M370.95,206.28 L372.45,206.28 L372.45,219.68 L374.00,219.68 L371.70,223.48 L369.40,219.68 L370.95,219.68 Z" fill="#606060" stroke="#262626" stroke-width="0.85" stroke-linejoin="miter"/>
<text x="367.10" y="217.68" font-size="9.5" text-anchor="end" font-weight="normal" fill="#222" textLength="19.55" lengthAdjust="spacingAndGlyphs">16 %</text>
<path d="M437.45,206.28 L438.95,206.28 L438.95,219.68 L440.50,219.68 L438.20,223.48 L435.90,219.68 L437.45,219.68 Z" fill="#606060" stroke="#262626" stroke-width="0.85" stroke-linejoin="miter"/>
<text x="433.60" y="217.68" font-size="9.5" text-anchor="end" font-weight="normal" fill="#222" textLength="19.55" lengthAdjust="spacingAndGlyphs">36 %</text>
<path d="M470.95,206.28 L472.45,206.28 L472.45,219.68 L474.00,219.68 L471.70,223.48 L469.40,219.68 L470.95,219.68 Z" fill="#606060" stroke="#262626" stroke-width="0.85" stroke-linejoin="miter"/>
<text x="475.70" y="217.68" font-size="9.5" text-anchor="start" font-weight="normal" fill="#222" textLength="14.48" lengthAdjust="spacingAndGlyphs">7 %</text>
<circle cx="370.23" cy="291.00" r="1.25" fill="#444"/>
<circle cx="373.78" cy="291.00" r="1.25" fill="#444"/>
<circle cx="437.23" cy="299.00" r="1.25" fill="#444"/>
<circle cx="440.78" cy="299.00" r="1.25" fill="#444"/>
<circle cx="470.73" cy="293.70" r="1.25" fill="#444"/>
<circle cx="474.28" cy="293.70" r="1.25" fill="#444"/>
<line x1="58.00" y1="388.22" x2="58.00" y2="528.26" stroke="#333" stroke-width="1.1"/>
<line x1="54.00" y1="527.76" x2="58.00" y2="527.76" stroke="#2e2e2e" stroke-width="1.1"/>
<text x="47.10" y="531.96" font-size="10.92" text-anchor="end" font-weight="normal" fill="#141414" textLength="9.35" lengthAdjust="spacingAndGlyphs">-2</text>
<line x1="54.00" y1="510.38" x2="58.00" y2="510.38" stroke="#2e2e2e" stroke-width="1.1"/>
<text x="47.10" y="514.58" font-size="10.92" text-anchor="end" font-weight="normal" fill="#141414" textLength="9.35" lengthAdjust="spacingAndGlyphs">-1</text>
<line x1="54.00" y1="493.00" x2="58.00" y2="493.00" stroke="#2e2e2e" stroke-width="1.1"/>
<text x="47.10" y="497.20" font-size="10.92" text-anchor="end" font-weight="normal" fill="#141414" textLength="5.83" lengthAdjust="spacingAndGlyphs">0</text>
<line x1="54.00" y1="475.62" x2="58.00" y2="475.62" stroke="#2e2e2e" stroke-width="1.1"/>
<text x="47.10" y="479.82" font-size="10.92" text-anchor="end" font-weight="normal" fill="#141414" textLength="5.83" lengthAdjust="spacingAndGlyphs">1</text>
<line x1="54.00" y1="458.24" x2="58.00" y2="458.24" stroke="#2e2e2e" stroke-width="1.1"/>
<text x="47.10" y="462.44" font-size="10.92" text-anchor="end" font-weight="normal" fill="#141414" textLength="5.83" lengthAdjust="spacingAndGlyphs">2</text>
<line x1="54.00" y1="440.86" x2="58.00" y2="440.86" stroke="#2e2e2e" stroke-width="1.1"/>
<text x="47.10" y="445.06" font-size="10.92" text-anchor="end" font-weight="normal" fill="#141414" textLength="5.83" lengthAdjust="spacingAndGlyphs">3</text>
<line x1="54.00" y1="423.48" x2="58.00" y2="423.48" stroke="#2e2e2e" stroke-width="1.1"/>
<text x="47.10" y="427.68" font-size="10.92" text-anchor="end" font-weight="normal" fill="#141414" textLength="5.83" lengthAdjust="spacingAndGlyphs">4</text>
<line x1="54.00" y1="406.10" x2="58.00" y2="406.10" stroke="#2e2e2e" stroke-width="1.1"/>
<text x="47.10" y="410.30" font-size="10.92" text-anchor="end" font-weight="normal" fill="#141414" textLength="5.83" lengthAdjust="spacingAndGlyphs">5</text>
<line x1="54.00" y1="388.72" x2="58.00" y2="388.72" stroke="#2e2e2e" stroke-width="1.1"/>
<text x="47.10" y="392.92" font-size="10.92" text-anchor="end" font-weight="normal" fill="#141414" textLength="5.83" lengthAdjust="spacingAndGlyphs">6</text>
<rect x="61.35" y="491.26" width="13.40" height="1.74" fill="#7f7f7f"/>
<rect x="74.75" y="486.92" width="13.40" height="6.08" fill="#000000"/>
<line x1="68.05" y1="490.39" x2="68.05" y2="492.13" stroke="#1c1c1c" stroke-width="0.9"/>
<line x1="65.75" y1="490.39" x2="70.35" y2="490.39" stroke="#1c1c1c" stroke-width="0.9"/>
<line x1="65.75" y1="492.13" x2="70.35" y2="492.13" stroke="#1c1c1c" stroke-width="0.9"/>
<line x1="81.45" y1="482.40" x2="81.45" y2="491.44" stroke="#0a0a0a" stroke-width="0.9"/>
<line x1="79.15" y1="482.40" x2="83.75" y2="482.40" stroke="#0a0a0a" stroke-width="0.9"/>
<line x1="79.15" y1="491.44" x2="83.75" y2="491.44" stroke="#0a0a0a" stroke-width="0.9"/>
<rect x="94.85" y="438.77" width="13.40" height="54.23" fill="#7f7f7f"/>
<rect x="108.25" y="453.72" width="13.40" height="39.28" fill="#000000"/>
<line x1="101.55" y1="438.43" x2="101.55" y2="439.12" stroke="#1c1c1c" stroke-width="0.9"/>
<line x1="99.25" y1="438.43" x2="103.85" y2="438.43" stroke="#1c1c1c" stroke-width="0.9"/>
<line x1="99.25" y1="439.12" x2="103.85" y2="439.12" stroke="#1c1c1c" stroke-width="0.9"/>
<line x1="114.95" y1="446.77" x2="114.95" y2="460.67" stroke="#0a0a0a" stroke-width="0.9"/>
<line x1="112.65" y1="446.77" x2="117.25" y2="446.77" stroke="#0a0a0a" stroke-width="0.9"/>
<line x1="112.65" y1="460.67" x2="117.25" y2="460.67" stroke="#0a0a0a" stroke-width="0.9"/>
<rect x="128.35" y="486.40" width="13.40" height="6.60" fill="#7f7f7f"/>
<rect x="141.75" y="487.96" width="13.40" height="5.04" fill="#000000"/>
<line x1="135.05" y1="485.87" x2="135.05" y2="486.92" stroke="#1c1c1c" stroke-width="0.9"/>
<line x1="132.75" y1="485.87" x2="137.35" y2="485.87" stroke="#1c1c1c" stroke-width="0.9"/>
<line x1="132.75" y1="486.92" x2="137.35" y2="486.92" stroke="#1c1c1c" stroke-width="0.9"/>
<line x1="148.45" y1="487.61" x2="148.45" y2="488.31" stroke="#0a0a0a" stroke-width="0.9"/>
<line x1="146.15" y1="487.61" x2="150.75" y2="487.61" stroke="#0a0a0a" stroke-width="0.9"/>
<line x1="146.15" y1="488.31" x2="150.75" y2="488.31" stroke="#0a0a0a" stroke-width="0.9"/>
<rect x="161.85" y="493.00" width="13.40" height="9.99" fill="#7f7f7f"/>
<rect x="175.25" y="493.00" width="13.40" height="5.39" fill="#000000"/>
<line x1="168.55" y1="496.91" x2="168.55" y2="509.08" stroke="#1c1c1c" stroke-width="0.9"/>
<line x1="166.25" y1="496.91" x2="170.85" y2="496.91" stroke="#1c1c1c" stroke-width="0.9"/>
<line x1="166.25" y1="509.08" x2="170.85" y2="509.08" stroke="#1c1c1c" stroke-width="0.9"/>
<line x1="181.95" y1="497.17" x2="181.95" y2="499.60" stroke="#0a0a0a" stroke-width="0.9"/>
<line x1="179.65" y1="497.17" x2="184.25" y2="497.17" stroke="#0a0a0a" stroke-width="0.9"/>
<line x1="179.65" y1="499.60" x2="184.25" y2="499.60" stroke="#0a0a0a" stroke-width="0.9"/>
<rect x="195.35" y="434.95" width="13.40" height="58.05" fill="#7f7f7f"/>
<rect x="208.75" y="446.94" width="13.40" height="46.06" fill="#000000"/>
<line x1="202.05" y1="432.34" x2="202.05" y2="437.56" stroke="#1c1c1c" stroke-width="0.9"/>
<line x1="199.75" y1="432.34" x2="204.35" y2="432.34" stroke="#1c1c1c" stroke-width="0.9"/>
<line x1="199.75" y1="437.56" x2="204.35" y2="437.56" stroke="#1c1c1c" stroke-width="0.9"/>
<line x1="215.45" y1="442.42" x2="215.45" y2="451.46" stroke="#0a0a0a" stroke-width="0.9"/>
<line x1="213.15" y1="442.42" x2="217.75" y2="442.42" stroke="#0a0a0a" stroke-width="0.9"/>
<line x1="213.15" y1="451.46" x2="217.75" y2="451.46" stroke="#0a0a0a" stroke-width="0.9"/>
<rect x="228.85" y="493.00" width="13.40" height="18.08" fill="#7f7f7f"/>
<rect x="242.25" y="493.00" width="13.40" height="15.90" fill="#000000"/>
<line x1="235.55" y1="505.34" x2="235.55" y2="516.81" stroke="#1c1c1c" stroke-width="0.9"/>
<line x1="233.25" y1="505.34" x2="237.85" y2="505.34" stroke="#1c1c1c" stroke-width="0.9"/>
<line x1="233.25" y1="516.81" x2="237.85" y2="516.81" stroke="#1c1c1c" stroke-width="0.9"/>
<line x1="248.95" y1="507.86" x2="248.95" y2="509.95" stroke="#0a0a0a" stroke-width="0.9"/>
<line x1="246.65" y1="507.86" x2="251.25" y2="507.86" stroke="#0a0a0a" stroke-width="0.9"/>
<line x1="246.65" y1="509.95" x2="251.25" y2="509.95" stroke="#0a0a0a" stroke-width="0.9"/>
<line x1="54.00" y1="493.00" x2="259.00" y2="493.00" stroke="#222" stroke-width="1.0"/>
<text x="55.5" y="383.12" font-size="12.4" text-anchor="start" font-weight="bold" fill="#000" textLength="62" lengthAdjust="spacingAndGlyphs">LDB1 48 hr</text>
<text x="73.55" y="528.1" font-size="10.92" text-anchor="middle" font-weight="normal" fill="#808080" textLength="23.22" lengthAdjust="spacingAndGlyphs">+137</text>
<text x="106.05" y="528.1" font-size="10.92" text-anchor="middle" font-weight="bold" fill="#000" textLength="17.39" lengthAdjust="spacingAndGlyphs">+51</text>
<text x="140.45" y="528.1" font-size="10.92" text-anchor="middle" font-weight="normal" fill="#808080" textLength="17.39" lengthAdjust="spacingAndGlyphs">+32</text>
<text x="171.85" y="528.1" font-size="10.92" text-anchor="middle" font-weight="bold" fill="#000" textLength="17.39" lengthAdjust="spacingAndGlyphs">+20</text>
<text x="197.30" y="528.1" font-size="10.92" font-weight="bold" fill="#000"><tspan textLength="6.12" lengthAdjust="spacingAndGlyphs">P</tspan><tspan font-size="6.77" dy="-3.9" dx="0.3" textLength="14.48" lengthAdjust="spacingAndGlyphs">TAL1</tspan></text>
<text x="241.25" y="528.1" font-size="10.92" text-anchor="middle" font-weight="normal" fill="#808080" textLength="15.18" lengthAdjust="spacingAndGlyphs">-30</text>
<path d="M114.25,390.02 L115.75,390.02 L115.75,403.42 L117.30,403.42 L115.00,407.22 L112.70,403.42 L114.25,403.42 Z" fill="#606060" stroke="#262626" stroke-width="0.85" stroke-linejoin="miter"/>
<text x="110.40" y="401.42" font-size="9.5" text-anchor="end" font-weight="normal" fill="#222" textLength="17.29" lengthAdjust="spacingAndGlyphs">55%</text>
<path d="M213.75,390.02 L215.25,390.02 L215.25,403.42 L216.80,403.42 L214.50,407.22 L212.20,403.42 L213.75,403.42 Z" fill="#606060" stroke="#262626" stroke-width="0.85" stroke-linejoin="miter"/>
<text x="218.50" y="401.42" font-size="9.5" text-anchor="start" font-weight="normal" fill="#222" textLength="17.29" lengthAdjust="spacingAndGlyphs">62%</text>
<circle cx="115.00" cy="436.00" r="1.25" fill="#444"/>
<circle cx="214.80" cy="433.40" r="1.25" fill="#444"/>
<text x="10.8" y="451.1" font-size="10.92" text-anchor="middle" font-weight="normal" fill="#141414" textLength="46.22" lengthAdjust="spacingAndGlyphs" transform="rotate(-90 10.8 451.1)">ChIP  Fold</text>
<text x="24.6" y="448.6" font-size="10.92" text-anchor="start" fill="#141414" transform="rotate(-90 24.6 448.6) translate(-39.54 0)"><tspan textLength="75.23" lengthAdjust="spacingAndGlyphs">Enrichment  log</tspan><tspan font-size="6.84" dy="2" textLength="3.85" lengthAdjust="spacingAndGlyphs">2</tspan></text>
<line x1="314.80" y1="388.22" x2="314.80" y2="528.26" stroke="#333" stroke-width="1.1"/>
<line x1="310.80" y1="527.76" x2="314.80" y2="527.76" stroke="#2e2e2e" stroke-width="1.1"/>
<text x="303.90" y="531.96" font-size="10.92" text-anchor="end" font-weight="normal" fill="#141414" textLength="9.35" lengthAdjust="spacingAndGlyphs">-2</text>
<line x1="310.80" y1="510.38" x2="314.80" y2="510.38" stroke="#2e2e2e" stroke-width="1.1"/>
<text x="303.90" y="514.58" font-size="10.92" text-anchor="end" font-weight="normal" fill="#141414" textLength="9.35" lengthAdjust="spacingAndGlyphs">-1</text>
<line x1="310.80" y1="493.00" x2="314.80" y2="493.00" stroke="#2e2e2e" stroke-width="1.1"/>
<text x="303.90" y="497.20" font-size="10.92" text-anchor="end" font-weight="normal" fill="#141414" textLength="5.83" lengthAdjust="spacingAndGlyphs">0</text>
<line x1="310.80" y1="475.62" x2="314.80" y2="475.62" stroke="#2e2e2e" stroke-width="1.1"/>
<text x="303.90" y="479.82" font-size="10.92" text-anchor="end" font-weight="normal" fill="#141414" textLength="5.83" lengthAdjust="spacingAndGlyphs">1</text>
<line x1="310.80" y1="458.24" x2="314.80" y2="458.24" stroke="#2e2e2e" stroke-width="1.1"/>
<text x="303.90" y="462.44" font-size="10.92" text-anchor="end" font-weight="normal" fill="#141414" textLength="5.83" lengthAdjust="spacingAndGlyphs">2</text>
<line x1="310.80" y1="440.86" x2="314.80" y2="440.86" stroke="#2e2e2e" stroke-width="1.1"/>
<text x="303.90" y="445.06" font-size="10.92" text-anchor="end" font-weight="normal" fill="#141414" textLength="5.83" lengthAdjust="spacingAndGlyphs">3</text>
<line x1="310.80" y1="423.48" x2="314.80" y2="423.48" stroke="#2e2e2e" stroke-width="1.1"/>
<text x="303.90" y="427.68" font-size="10.92" text-anchor="end" font-weight="normal" fill="#141414" textLength="5.83" lengthAdjust="spacingAndGlyphs">4</text>
<line x1="310.80" y1="406.10" x2="314.80" y2="406.10" stroke="#2e2e2e" stroke-width="1.1"/>
<text x="303.90" y="410.30" font-size="10.92" text-anchor="end" font-weight="normal" fill="#141414" textLength="5.83" lengthAdjust="spacingAndGlyphs">5</text>
<line x1="310.80" y1="388.72" x2="314.80" y2="388.72" stroke="#2e2e2e" stroke-width="1.1"/>
<text x="303.90" y="392.92" font-size="10.92" text-anchor="end" font-weight="normal" fill="#141414" textLength="5.83" lengthAdjust="spacingAndGlyphs">6</text>
<rect x="318.15" y="493.00" width="13.40" height="0.52" fill="#7f7f7f"/>
<rect x="331.55" y="492.48" width="13.40" height="0.52" fill="#000000"/>
<line x1="324.85" y1="490.05" x2="324.85" y2="497.00" stroke="#1c1c1c" stroke-width="0.9"/>
<line x1="322.55" y1="490.05" x2="327.15" y2="490.05" stroke="#1c1c1c" stroke-width="0.9"/>
<line x1="322.55" y1="497.00" x2="327.15" y2="497.00" stroke="#1c1c1c" stroke-width="0.9"/>
<line x1="338.25" y1="489.00" x2="338.25" y2="495.95" stroke="#0a0a0a" stroke-width="0.9"/>
<line x1="335.95" y1="489.00" x2="340.55" y2="489.00" stroke="#0a0a0a" stroke-width="0.9"/>
<line x1="335.95" y1="495.95" x2="340.55" y2="495.95" stroke="#0a0a0a" stroke-width="0.9"/>
<rect x="351.65" y="400.02" width="13.40" height="92.98" fill="#7f7f7f"/>
<rect x="365.05" y="478.75" width="13.40" height="14.25" fill="#000000"/>
<line x1="358.35" y1="399.67" x2="358.35" y2="400.36" stroke="#1c1c1c" stroke-width="0.9"/>
<line x1="356.05" y1="399.67" x2="360.65" y2="399.67" stroke="#1c1c1c" stroke-width="0.9"/>
<line x1="356.05" y1="400.36" x2="360.65" y2="400.36" stroke="#1c1c1c" stroke-width="0.9"/>
<line x1="371.75" y1="474.58" x2="371.75" y2="482.92" stroke="#0a0a0a" stroke-width="0.9"/>
<line x1="369.45" y1="474.58" x2="374.05" y2="474.58" stroke="#0a0a0a" stroke-width="0.9"/>
<line x1="369.45" y1="482.92" x2="374.05" y2="482.92" stroke="#0a0a0a" stroke-width="0.9"/>
<rect x="385.15" y="491.26" width="13.40" height="1.74" fill="#7f7f7f"/>
<rect x="398.55" y="485.53" width="13.40" height="7.47" fill="#000000"/>
<line x1="391.85" y1="487.79" x2="391.85" y2="494.74" stroke="#1c1c1c" stroke-width="0.9"/>
<line x1="389.55" y1="487.79" x2="394.15" y2="487.79" stroke="#1c1c1c" stroke-width="0.9"/>
<line x1="389.55" y1="494.74" x2="394.15" y2="494.74" stroke="#1c1c1c" stroke-width="0.9"/>
<line x1="405.25" y1="482.05" x2="405.25" y2="489.00" stroke="#0a0a0a" stroke-width="0.9"/>
<line x1="402.95" y1="482.05" x2="407.55" y2="482.05" stroke="#0a0a0a" stroke-width="0.9"/>
<line x1="402.95" y1="489.00" x2="407.55" y2="489.00" stroke="#0a0a0a" stroke-width="0.9"/>
<rect x="418.65" y="491.26" width="13.40" height="1.74" fill="#7f7f7f"/>
<rect x="432.05" y="483.79" width="13.40" height="9.21" fill="#000000"/>
<line x1="425.35" y1="486.92" x2="425.35" y2="495.61" stroke="#1c1c1c" stroke-width="0.9"/>
<line x1="423.05" y1="486.92" x2="427.65" y2="486.92" stroke="#1c1c1c" stroke-width="0.9"/>
<line x1="423.05" y1="495.61" x2="427.65" y2="495.61" stroke="#1c1c1c" stroke-width="0.9"/>
<line x1="438.75" y1="482.05" x2="438.75" y2="485.53" stroke="#0a0a0a" stroke-width="0.9"/>
<line x1="436.45" y1="482.05" x2="441.05" y2="482.05" stroke="#0a0a0a" stroke-width="0.9"/>
<line x1="436.45" y1="485.53" x2="441.05" y2="485.53" stroke="#0a0a0a" stroke-width="0.9"/>
<rect x="452.15" y="400.02" width="13.40" height="92.98" fill="#7f7f7f"/>
<rect x="465.55" y="491.26" width="13.40" height="1.74" fill="#000000"/>
<line x1="458.85" y1="399.67" x2="458.85" y2="400.36" stroke="#1c1c1c" stroke-width="0.9"/>
<line x1="456.55" y1="399.67" x2="461.15" y2="399.67" stroke="#1c1c1c" stroke-width="0.9"/>
<line x1="456.55" y1="400.36" x2="461.15" y2="400.36" stroke="#1c1c1c" stroke-width="0.9"/>
<line x1="472.25" y1="489.52" x2="472.25" y2="493.00" stroke="#0a0a0a" stroke-width="0.9"/>
<line x1="469.95" y1="489.52" x2="474.55" y2="489.52" stroke="#0a0a0a" stroke-width="0.9"/>
<line x1="469.95" y1="493.00" x2="474.55" y2="493.00" stroke="#0a0a0a" stroke-width="0.9"/>
<rect x="485.65" y="493.00" width="13.40" height="6.95" fill="#7f7f7f"/>
<rect x="499.05" y="493.00" width="13.40" height="11.99" fill="#000000"/>
<line x1="492.35" y1="499.43" x2="492.35" y2="500.47" stroke="#1c1c1c" stroke-width="0.9"/>
<line x1="490.05" y1="499.43" x2="494.65" y2="499.43" stroke="#1c1c1c" stroke-width="0.9"/>
<line x1="490.05" y1="500.47" x2="494.65" y2="500.47" stroke="#1c1c1c" stroke-width="0.9"/>
<line x1="505.75" y1="500.82" x2="505.75" y2="509.16" stroke="#0a0a0a" stroke-width="0.9"/>
<line x1="503.45" y1="500.82" x2="508.05" y2="500.82" stroke="#0a0a0a" stroke-width="0.9"/>
<line x1="503.45" y1="509.16" x2="508.05" y2="509.16" stroke="#0a0a0a" stroke-width="0.9"/>
<line x1="310.80" y1="493.00" x2="515.80" y2="493.00" stroke="#222" stroke-width="1.0"/>
<text x="312" y="383.12" font-size="12.4" text-anchor="start" font-weight="bold" fill="#000" textLength="62.5" lengthAdjust="spacingAndGlyphs">LDB1 96 hr</text>
<text x="330.35" y="528.1" font-size="10.92" text-anchor="middle" font-weight="normal" fill="#808080" textLength="23.22" lengthAdjust="spacingAndGlyphs">+137</text>
<text x="362.85" y="528.1" font-size="10.92" text-anchor="middle" font-weight="bold" fill="#000" textLength="17.39" lengthAdjust="spacingAndGlyphs">+51</text>
<text x="397.25" y="528.1" font-size="10.92" text-anchor="middle" font-weight="normal" fill="#808080" textLength="17.39" lengthAdjust="spacingAndGlyphs">+32</text>
<text x="428.65" y="528.1" font-size="10.92" text-anchor="middle" font-weight="bold" fill="#000" textLength="17.39" lengthAdjust="spacingAndGlyphs">+20</text>
<text x="454.10" y="528.1" font-size="10.92" font-weight="bold" fill="#000"><tspan textLength="6.12" lengthAdjust="spacingAndGlyphs">P</tspan><tspan font-size="6.77" dy="-3.9" dx="0.3" textLength="14.48" lengthAdjust="spacingAndGlyphs">TAL1</tspan></text>
<text x="498.05" y="528.1" font-size="10.92" text-anchor="middle" font-weight="normal" fill="#808080" textLength="15.18" lengthAdjust="spacingAndGlyphs">-30</text>
<path d="M370.95,390.02 L372.45,390.02 L372.45,403.42 L374.00,403.42 L371.70,407.22 L369.40,403.42 L370.95,403.42 Z" fill="#606060" stroke="#262626" stroke-width="0.85" stroke-linejoin="miter"/>
<text x="375.70" y="401.42" font-size="9.5" text-anchor="start" font-weight="normal" fill="#222" textLength="12.22" lengthAdjust="spacingAndGlyphs">4%</text>
<path d="M471.55,390.02 L473.05,390.02 L473.05,403.42 L474.60,403.42 L472.30,407.22 L470.00,403.42 L471.55,403.42 Z" fill="#606060" stroke="#262626" stroke-width="0.85" stroke-linejoin="miter"/>
<text x="476.30" y="401.42" font-size="9.5" text-anchor="start" font-weight="normal" fill="#222" textLength="12.22" lengthAdjust="spacingAndGlyphs">2%</text>
<circle cx="367.65" cy="464.20" r="1.25" fill="#444"/>
<circle cx="371.20" cy="464.20" r="1.25" fill="#444"/>
<circle cx="374.75" cy="464.20" r="1.25" fill="#444"/>
<circle cx="468.45" cy="480.00" r="1.25" fill="#444"/>
<circle cx="472.00" cy="480.00" r="1.25" fill="#444"/>
<circle cx="475.55" cy="480.00" r="1.25" fill="#444"/>
<line x1="58.00" y1="565.72" x2="58.00" y2="705.76" stroke="#333" stroke-width="1.1"/>
<line x1="54.00" y1="705.26" x2="58.00" y2="705.26" stroke="#2e2e2e" stroke-width="1.1"/>
<text x="47.10" y="709.46" font-size="10.92" text-anchor="end" font-weight="normal" fill="#141414" textLength="9.35" lengthAdjust="spacingAndGlyphs">-2</text>
<line x1="54.00" y1="687.88" x2="58.00" y2="687.88" stroke="#2e2e2e" stroke-width="1.1"/>
<text x="47.10" y="692.08" font-size="10.92" text-anchor="end" font-weight="normal" fill="#141414" textLength="9.35" lengthAdjust="spacingAndGlyphs">-1</text>
<line x1="54.00" y1="670.50" x2="58.00" y2="670.50" stroke="#2e2e2e" stroke-width="1.1"/>
<text x="47.10" y="674.70" font-size="10.92" text-anchor="end" font-weight="normal" fill="#141414" textLength="5.83" lengthAdjust="spacingAndGlyphs">0</text>
<line x1="54.00" y1="653.12" x2="58.00" y2="653.12" stroke="#2e2e2e" stroke-width="1.1"/>
<text x="47.10" y="657.32" font-size="10.92" text-anchor="end" font-weight="normal" fill="#141414" textLength="5.83" lengthAdjust="spacingAndGlyphs">1</text>
<line x1="54.00" y1="635.74" x2="58.00" y2="635.74" stroke="#2e2e2e" stroke-width="1.1"/>
<text x="47.10" y="639.94" font-size="10.92" text-anchor="end" font-weight="normal" fill="#141414" textLength="5.83" lengthAdjust="spacingAndGlyphs">2</text>
<line x1="54.00" y1="618.36" x2="58.00" y2="618.36" stroke="#2e2e2e" stroke-width="1.1"/>
<text x="47.10" y="622.56" font-size="10.92" text-anchor="end" font-weight="normal" fill="#141414" textLength="5.83" lengthAdjust="spacingAndGlyphs">3</text>
<line x1="54.00" y1="600.98" x2="58.00" y2="600.98" stroke="#2e2e2e" stroke-width="1.1"/>
<text x="47.10" y="605.18" font-size="10.92" text-anchor="end" font-weight="normal" fill="#141414" textLength="5.83" lengthAdjust="spacingAndGlyphs">4</text>
<line x1="54.00" y1="583.60" x2="58.00" y2="583.60" stroke="#2e2e2e" stroke-width="1.1"/>
<text x="47.10" y="587.80" font-size="10.92" text-anchor="end" font-weight="normal" fill="#141414" textLength="5.83" lengthAdjust="spacingAndGlyphs">5</text>
<line x1="54.00" y1="566.22" x2="58.00" y2="566.22" stroke="#2e2e2e" stroke-width="1.1"/>
<text x="47.10" y="570.42" font-size="10.92" text-anchor="end" font-weight="normal" fill="#141414" textLength="5.83" lengthAdjust="spacingAndGlyphs">6</text>
<rect x="61.35" y="668.24" width="13.40" height="2.26" fill="#7f7f7f"/>
<rect x="74.75" y="669.11" width="13.40" height="1.39" fill="#000000"/>
<line x1="68.05" y1="664.76" x2="68.05" y2="671.72" stroke="#1c1c1c" stroke-width="0.9"/>
<line x1="65.75" y1="664.76" x2="70.35" y2="664.76" stroke="#1c1c1c" stroke-width="0.9"/>
<line x1="65.75" y1="671.72" x2="70.35" y2="671.72" stroke="#1c1c1c" stroke-width="0.9"/>
<line x1="81.45" y1="668.24" x2="81.45" y2="669.98" stroke="#0a0a0a" stroke-width="0.9"/>
<line x1="79.15" y1="668.24" x2="83.75" y2="668.24" stroke="#0a0a0a" stroke-width="0.9"/>
<line x1="79.15" y1="669.98" x2="83.75" y2="669.98" stroke="#0a0a0a" stroke-width="0.9"/>
<rect x="94.85" y="593.68" width="13.40" height="76.82" fill="#7f7f7f"/>
<rect x="108.25" y="656.94" width="13.40" height="13.56" fill="#000000"/>
<line x1="101.55" y1="593.16" x2="101.55" y2="594.20" stroke="#1c1c1c" stroke-width="0.9"/>
<line x1="99.25" y1="593.16" x2="103.85" y2="593.16" stroke="#1c1c1c" stroke-width="0.9"/>
<line x1="99.25" y1="594.20" x2="103.85" y2="594.20" stroke="#1c1c1c" stroke-width="0.9"/>
<line x1="114.95" y1="656.42" x2="114.95" y2="657.46" stroke="#0a0a0a" stroke-width="0.9"/>
<line x1="112.65" y1="656.42" x2="117.25" y2="656.42" stroke="#0a0a0a" stroke-width="0.9"/>
<line x1="112.65" y1="657.46" x2="117.25" y2="657.46" stroke="#0a0a0a" stroke-width="0.9"/>
<rect x="128.35" y="668.41" width="13.40" height="2.09" fill="#7f7f7f"/>
<rect x="141.75" y="664.42" width="13.40" height="6.08" fill="#000000"/>
<line x1="135.05" y1="666.68" x2="135.05" y2="670.15" stroke="#1c1c1c" stroke-width="0.9"/>
<line x1="132.75" y1="666.68" x2="137.35" y2="666.68" stroke="#1c1c1c" stroke-width="0.9"/>
<line x1="132.75" y1="670.15" x2="137.35" y2="670.15" stroke="#1c1c1c" stroke-width="0.9"/>
<line x1="148.45" y1="663.90" x2="148.45" y2="664.94" stroke="#0a0a0a" stroke-width="0.9"/>
<line x1="146.15" y1="663.90" x2="150.75" y2="663.90" stroke="#0a0a0a" stroke-width="0.9"/>
<line x1="146.15" y1="664.94" x2="150.75" y2="664.94" stroke="#0a0a0a" stroke-width="0.9"/>
<rect x="161.85" y="658.16" width="13.40" height="12.34" fill="#7f7f7f"/>
<rect x="175.25" y="662.16" width="13.40" height="8.34" fill="#000000"/>
<line x1="168.55" y1="656.42" x2="168.55" y2="659.90" stroke="#1c1c1c" stroke-width="0.9"/>
<line x1="166.25" y1="656.42" x2="170.85" y2="656.42" stroke="#1c1c1c" stroke-width="0.9"/>
<line x1="166.25" y1="659.90" x2="170.85" y2="659.90" stroke="#1c1c1c" stroke-width="0.9"/>
<line x1="181.95" y1="659.03" x2="181.95" y2="665.29" stroke="#0a0a0a" stroke-width="0.9"/>
<line x1="179.65" y1="659.03" x2="184.25" y2="659.03" stroke="#0a0a0a" stroke-width="0.9"/>
<line x1="179.65" y1="665.29" x2="184.25" y2="665.29" stroke="#0a0a0a" stroke-width="0.9"/>
<rect x="195.35" y="602.37" width="13.40" height="68.13" fill="#7f7f7f"/>
<rect x="208.75" y="661.11" width="13.40" height="9.39" fill="#000000"/>
<line x1="202.05" y1="600.98" x2="202.05" y2="603.76" stroke="#1c1c1c" stroke-width="0.9"/>
<line x1="199.75" y1="600.98" x2="204.35" y2="600.98" stroke="#1c1c1c" stroke-width="0.9"/>
<line x1="199.75" y1="603.76" x2="204.35" y2="603.76" stroke="#1c1c1c" stroke-width="0.9"/>
<line x1="215.45" y1="660.25" x2="215.45" y2="661.98" stroke="#0a0a0a" stroke-width="0.9"/>
<line x1="213.15" y1="660.25" x2="217.75" y2="660.25" stroke="#0a0a0a" stroke-width="0.9"/>
<line x1="213.15" y1="661.98" x2="217.75" y2="661.98" stroke="#0a0a0a" stroke-width="0.9"/>
<rect x="228.85" y="670.50" width="13.40" height="3.48" fill="#7f7f7f"/>
<rect x="242.25" y="670.50" width="13.40" height="5.21" fill="#000000"/>
<line x1="235.55" y1="671.37" x2="235.55" y2="676.58" stroke="#1c1c1c" stroke-width="0.9"/>
<line x1="233.25" y1="671.37" x2="237.85" y2="671.37" stroke="#1c1c1c" stroke-width="0.9"/>
<line x1="233.25" y1="676.58" x2="237.85" y2="676.58" stroke="#1c1c1c" stroke-width="0.9"/>
<line x1="248.95" y1="673.11" x2="248.95" y2="678.32" stroke="#0a0a0a" stroke-width="0.9"/>
<line x1="246.65" y1="673.11" x2="251.25" y2="673.11" stroke="#0a0a0a" stroke-width="0.9"/>
<line x1="246.65" y1="678.32" x2="251.25" y2="678.32" stroke="#0a0a0a" stroke-width="0.9"/>
<line x1="54.00" y1="670.50" x2="259.00" y2="670.50" stroke="#222" stroke-width="1.0"/>
<text x="55" y="561.12" font-size="12.4" text-anchor="start" font-weight="bold" fill="#000" textLength="88.5" lengthAdjust="spacingAndGlyphs">TCF3(E47) 96 hr</text>
<text x="73.55" y="705.9" font-size="10.92" text-anchor="middle" font-weight="normal" fill="#808080" textLength="23.22" lengthAdjust="spacingAndGlyphs">+137</text>
<text x="106.05" y="705.9" font-size="10.92" text-anchor="middle" font-weight="bold" fill="#000" textLength="17.39" lengthAdjust="spacingAndGlyphs">+51</text>
<text x="140.45" y="705.9" font-size="10.92" text-anchor="middle" font-weight="normal" fill="#808080" textLength="17.39" lengthAdjust="spacingAndGlyphs">+32</text>
<text x="171.85" y="705.9" font-size="10.92" text-anchor="middle" font-weight="bold" fill="#000" textLength="17.39" lengthAdjust="spacingAndGlyphs">+20</text>
<text x="197.30" y="705.9" font-size="10.92" font-weight="bold" fill="#000"><tspan textLength="6.12" lengthAdjust="spacingAndGlyphs">P</tspan><tspan font-size="6.77" dy="-3.9" dx="0.3" textLength="14.48" lengthAdjust="spacingAndGlyphs">TAL1</tspan></text>
<text x="241.25" y="705.9" font-size="10.92" text-anchor="middle" font-weight="normal" fill="#808080" textLength="15.18" lengthAdjust="spacingAndGlyphs">-30</text>
<path d="M114.25,570.52 L115.75,570.52 L115.75,583.92 L117.30,583.92 L115.00,587.72 L112.70,583.92 L114.25,583.92 Z" fill="#606060" stroke="#262626" stroke-width="0.85" stroke-linejoin="miter"/>
<text x="110.40" y="581.92" font-size="9.5" text-anchor="end" font-weight="normal" fill="#222" textLength="17.29" lengthAdjust="spacingAndGlyphs">13%</text>
<path d="M214.25,570.52 L215.75,570.52 L215.75,583.92 L217.30,583.92 L215.00,587.72 L212.70,583.92 L214.25,583.92 Z" fill="#606060" stroke="#262626" stroke-width="0.85" stroke-linejoin="miter"/>
<text x="219.00" y="581.92" font-size="9.5" text-anchor="start" font-weight="normal" fill="#222" textLength="17.29" lengthAdjust="spacingAndGlyphs">11%</text>
<circle cx="109.67" cy="646.70" r="1.25" fill="#444"/>
<circle cx="113.22" cy="646.70" r="1.25" fill="#444"/>
<circle cx="116.77" cy="646.70" r="1.25" fill="#444"/>
<circle cx="120.32" cy="646.70" r="1.25" fill="#444"/>
<circle cx="210.28" cy="650.20" r="1.25" fill="#444"/>
<circle cx="213.83" cy="650.20" r="1.25" fill="#444"/>
<circle cx="217.38" cy="650.20" r="1.25" fill="#444"/>
<circle cx="220.93" cy="650.20" r="1.25" fill="#444"/>
<text x="10.8" y="632.5" font-size="10.92" text-anchor="middle" font-weight="normal" fill="#141414" textLength="46.22" lengthAdjust="spacingAndGlyphs" transform="rotate(-90 10.8 632.5)">ChIP  Fold</text>
<text x="24.6" y="630.7" font-size="10.92" text-anchor="start" fill="#141414" transform="rotate(-90 24.6 630.7) translate(-39.54 0)"><tspan textLength="75.23" lengthAdjust="spacingAndGlyphs">Enrichment  log</tspan><tspan font-size="6.84" dy="2" textLength="3.85" lengthAdjust="spacingAndGlyphs">2</tspan></text>
<line x1="314.40" y1="565.72" x2="314.40" y2="705.76" stroke="#333" stroke-width="1.1"/>
<line x1="310.40" y1="705.26" x2="314.40" y2="705.26" stroke="#2e2e2e" stroke-width="1.1"/>
<text x="303.50" y="709.46" font-size="10.92" text-anchor="end" font-weight="normal" fill="#141414" textLength="9.35" lengthAdjust="spacingAndGlyphs">-2</text>
<line x1="310.40" y1="687.88" x2="314.40" y2="687.88" stroke="#2e2e2e" stroke-width="1.1"/>
<text x="303.50" y="692.08" font-size="10.92" text-anchor="end" font-weight="normal" fill="#141414" textLength="9.35" lengthAdjust="spacingAndGlyphs">-1</text>
<line x1="310.40" y1="670.50" x2="314.40" y2="670.50" stroke="#2e2e2e" stroke-width="1.1"/>
<text x="303.50" y="674.70" font-size="10.92" text-anchor="end" font-weight="normal" fill="#141414" textLength="5.83" lengthAdjust="spacingAndGlyphs">0</text>
<line x1="310.40" y1="653.12" x2="314.40" y2="653.12" stroke="#2e2e2e" stroke-width="1.1"/>
<text x="303.50" y="657.32" font-size="10.92" text-anchor="end" font-weight="normal" fill="#141414" textLength="5.83" lengthAdjust="spacingAndGlyphs">1</text>
<line x1="310.40" y1="635.74" x2="314.40" y2="635.74" stroke="#2e2e2e" stroke-width="1.1"/>
<text x="303.50" y="639.94" font-size="10.92" text-anchor="end" font-weight="normal" fill="#141414" textLength="5.83" lengthAdjust="spacingAndGlyphs">2</text>
<line x1="310.40" y1="618.36" x2="314.40" y2="618.36" stroke="#2e2e2e" stroke-width="1.1"/>
<text x="303.50" y="622.56" font-size="10.92" text-anchor="end" font-weight="normal" fill="#141414" textLength="5.83" lengthAdjust="spacingAndGlyphs">3</text>
<line x1="310.40" y1="600.98" x2="314.40" y2="600.98" stroke="#2e2e2e" stroke-width="1.1"/>
<text x="303.50" y="605.18" font-size="10.92" text-anchor="end" font-weight="normal" fill="#141414" textLength="5.83" lengthAdjust="spacingAndGlyphs">4</text>
<line x1="310.40" y1="583.60" x2="314.40" y2="583.60" stroke="#2e2e2e" stroke-width="1.1"/>
<text x="303.50" y="587.80" font-size="10.92" text-anchor="end" font-weight="normal" fill="#141414" textLength="5.83" lengthAdjust="spacingAndGlyphs">5</text>
<line x1="310.40" y1="566.22" x2="314.40" y2="566.22" stroke="#2e2e2e" stroke-width="1.1"/>
<text x="303.50" y="570.42" font-size="10.92" text-anchor="end" font-weight="normal" fill="#141414" textLength="5.83" lengthAdjust="spacingAndGlyphs">6</text>
<rect x="317.28" y="670.50" width="11.50" height="13.21" fill="#7f7f7f"/>
<rect x="328.78" y="670.50" width="11.50" height="7.65" fill="#000000"/>
<line x1="323.03" y1="681.10" x2="323.03" y2="686.32" stroke="#1c1c1c" stroke-width="0.9"/>
<line x1="320.73" y1="681.10" x2="325.33" y2="681.10" stroke="#1c1c1c" stroke-width="0.9"/>
<line x1="320.73" y1="686.32" x2="325.33" y2="686.32" stroke="#1c1c1c" stroke-width="0.9"/>
<line x1="334.53" y1="677.45" x2="334.53" y2="678.84" stroke="#0a0a0a" stroke-width="0.9"/>
<line x1="332.23" y1="677.45" x2="336.83" y2="677.45" stroke="#0a0a0a" stroke-width="0.9"/>
<line x1="332.23" y1="678.84" x2="336.83" y2="678.84" stroke="#0a0a0a" stroke-width="0.9"/>
<rect x="346.04" y="607.58" width="11.50" height="62.92" fill="#7f7f7f"/>
<rect x="357.54" y="656.94" width="11.50" height="13.56" fill="#000000"/>
<line x1="363.29" y1="656.42" x2="363.29" y2="657.46" stroke="#0a0a0a" stroke-width="0.9"/>
<line x1="360.99" y1="656.42" x2="365.59" y2="656.42" stroke="#0a0a0a" stroke-width="0.9"/>
<line x1="360.99" y1="657.46" x2="365.59" y2="657.46" stroke="#0a0a0a" stroke-width="0.9"/>
<rect x="374.80" y="669.98" width="11.50" height="0.52" fill="#7f7f7f"/>
<rect x="386.30" y="670.50" width="11.50" height="1.74" fill="#000000"/>
<line x1="380.55" y1="667.37" x2="380.55" y2="672.59" stroke="#1c1c1c" stroke-width="0.9"/>
<line x1="378.25" y1="667.37" x2="382.85" y2="667.37" stroke="#1c1c1c" stroke-width="0.9"/>
<line x1="378.25" y1="672.59" x2="382.85" y2="672.59" stroke="#1c1c1c" stroke-width="0.9"/>
<line x1="392.05" y1="671.54" x2="392.05" y2="672.93" stroke="#0a0a0a" stroke-width="0.9"/>
<line x1="389.75" y1="671.54" x2="394.35" y2="671.54" stroke="#0a0a0a" stroke-width="0.9"/>
<line x1="389.75" y1="672.93" x2="394.35" y2="672.93" stroke="#0a0a0a" stroke-width="0.9"/>
<rect x="403.56" y="623.05" width="11.50" height="47.45" fill="#7f7f7f"/>
<rect x="415.06" y="639.04" width="11.50" height="31.46" fill="#000000"/>
<line x1="409.31" y1="620.97" x2="409.31" y2="625.14" stroke="#1c1c1c" stroke-width="0.9"/>
<line x1="407.01" y1="620.97" x2="411.61" y2="620.97" stroke="#1c1c1c" stroke-width="0.9"/>
<line x1="407.01" y1="625.14" x2="411.61" y2="625.14" stroke="#1c1c1c" stroke-width="0.9"/>
<line x1="420.81" y1="638.35" x2="420.81" y2="639.74" stroke="#0a0a0a" stroke-width="0.9"/>
<line x1="418.51" y1="638.35" x2="423.11" y2="638.35" stroke="#0a0a0a" stroke-width="0.9"/>
<line x1="418.51" y1="639.74" x2="423.11" y2="639.74" stroke="#0a0a0a" stroke-width="0.9"/>
<rect x="432.32" y="607.76" width="11.50" height="62.74" fill="#7f7f7f"/>
<rect x="443.82" y="636.96" width="11.50" height="33.54" fill="#000000"/>
<line x1="438.07" y1="606.89" x2="438.07" y2="608.63" stroke="#1c1c1c" stroke-width="0.9"/>
<line x1="435.77" y1="606.89" x2="440.37" y2="606.89" stroke="#1c1c1c" stroke-width="0.9"/>
<line x1="435.77" y1="608.63" x2="440.37" y2="608.63" stroke="#1c1c1c" stroke-width="0.9"/>
<line x1="449.57" y1="636.44" x2="449.57" y2="637.48" stroke="#0a0a0a" stroke-width="0.9"/>
<line x1="447.27" y1="636.44" x2="451.87" y2="636.44" stroke="#0a0a0a" stroke-width="0.9"/>
<line x1="447.27" y1="637.48" x2="451.87" y2="637.48" stroke="#0a0a0a" stroke-width="0.9"/>
<rect x="461.08" y="661.11" width="11.50" height="9.39" fill="#7f7f7f"/>
<rect x="472.58" y="668.41" width="11.50" height="2.09" fill="#000000"/>
<line x1="466.83" y1="652.42" x2="466.83" y2="669.80" stroke="#1c1c1c" stroke-width="0.9"/>
<line x1="464.53" y1="652.42" x2="469.13" y2="652.42" stroke="#1c1c1c" stroke-width="0.9"/>
<line x1="464.53" y1="669.80" x2="469.13" y2="669.80" stroke="#1c1c1c" stroke-width="0.9"/>
<line x1="478.33" y1="667.89" x2="478.33" y2="668.94" stroke="#0a0a0a" stroke-width="0.9"/>
<line x1="476.03" y1="667.89" x2="480.63" y2="667.89" stroke="#0a0a0a" stroke-width="0.9"/>
<line x1="476.03" y1="668.94" x2="480.63" y2="668.94" stroke="#0a0a0a" stroke-width="0.9"/>
<rect x="489.84" y="649.99" width="11.50" height="20.51" fill="#7f7f7f"/>
<rect x="501.34" y="650.86" width="11.50" height="19.64" fill="#000000"/>
<line x1="495.59" y1="647.38" x2="495.59" y2="652.60" stroke="#1c1c1c" stroke-width="0.9"/>
<line x1="493.29" y1="647.38" x2="497.89" y2="647.38" stroke="#1c1c1c" stroke-width="0.9"/>
<line x1="493.29" y1="652.60" x2="497.89" y2="652.60" stroke="#1c1c1c" stroke-width="0.9"/>
<line x1="507.09" y1="647.04" x2="507.09" y2="654.68" stroke="#0a0a0a" stroke-width="0.9"/>
<line x1="504.79" y1="647.04" x2="509.39" y2="647.04" stroke="#0a0a0a" stroke-width="0.9"/>
<line x1="504.79" y1="654.68" x2="509.39" y2="654.68" stroke="#0a0a0a" stroke-width="0.9"/>
<line x1="310.40" y1="670.50" x2="515.70" y2="670.50" stroke="#222" stroke-width="1.0"/>
<text x="311.9" y="561.12" font-size="12.4" text-anchor="start" font-weight="bold" fill="#000" textLength="60" lengthAdjust="spacingAndGlyphs">Pol II 96 hr</text>
<text x="328.78" y="705.9" font-size="10.64" text-anchor="middle" font-weight="normal" fill="#808080" textLength="22.61" lengthAdjust="spacingAndGlyphs">+137</text>
<text x="354.74" y="705.9" font-size="10.64" text-anchor="middle" font-weight="bold" fill="#000" textLength="16.93" lengthAdjust="spacingAndGlyphs">+51</text>
<text x="386.30" y="705.9" font-size="10.64" text-anchor="middle" font-weight="normal" fill="#808080" textLength="16.93" lengthAdjust="spacingAndGlyphs">+32</text>
<text x="414.76" y="705.9" font-size="10.64" text-anchor="middle" font-weight="bold" fill="#000" textLength="16.93" lengthAdjust="spacingAndGlyphs">+20</text>
<text x="432.84" y="705.9" font-size="10.64" font-weight="bold" fill="#000"><tspan textLength="5.96" lengthAdjust="spacingAndGlyphs">P</tspan><tspan font-size="6.60" dy="-3.9" dx="0.3" textLength="14.10" lengthAdjust="spacingAndGlyphs">TAL1</tspan></text>
<text x="471.98" y="705.9" font-size="10.64" text-anchor="middle" font-weight="normal" fill="#808080" textLength="14.78" lengthAdjust="spacingAndGlyphs">-30</text>
<text x="493.32" y="705.9" font-size="10.64" font-weight="normal" fill="#1a1a1a"><tspan textLength="5.79" lengthAdjust="spacingAndGlyphs">P</tspan><tspan font-size="6.60" dy="-3.9" dx="0.3" textLength="10.75" lengthAdjust="spacingAndGlyphs">TBP</tspan></text>
<path d="M361.25,570.52 L362.75,570.52 L362.75,583.92 L364.30,583.92 L362.00,587.72 L359.70,583.92 L361.25,583.92 Z" fill="#606060" stroke="#262626" stroke-width="0.85" stroke-linejoin="miter"/>
<text x="357.40" y="581.92" font-size="9.5" text-anchor="end" font-weight="normal" fill="#222" textLength="17.29" lengthAdjust="spacingAndGlyphs">14%</text>
<path d="M419.05,570.52 L420.55,570.52 L420.55,583.92 L422.10,583.92 L419.80,587.72 L417.50,583.92 L419.05,583.92 Z" fill="#606060" stroke="#262626" stroke-width="0.85" stroke-linejoin="miter"/>
<text x="415.20" y="581.92" font-size="9.5" text-anchor="end" font-weight="normal" fill="#222" textLength="17.29" lengthAdjust="spacingAndGlyphs">52%</text>
<path d="M447.95,570.52 L449.45,570.52 L449.45,583.92 L451.00,583.92 L448.70,587.72 L446.40,583.92 L447.95,583.92 Z" fill="#606060" stroke="#262626" stroke-width="0.85" stroke-linejoin="miter"/>
<text x="452.70" y="581.92" font-size="9.5" text-anchor="start" font-weight="normal" fill="#222" textLength="17.29" lengthAdjust="spacingAndGlyphs">31%</text>
<circle cx="359.18" cy="646.20" r="1.25" fill="#444"/>
<circle cx="362.73" cy="646.20" r="1.25" fill="#444"/>
<circle cx="366.28" cy="646.20" r="1.25" fill="#444"/>
<circle cx="369.82" cy="646.20" r="1.25" fill="#444"/>
<circle cx="417.68" cy="628.40" r="1.25" fill="#444"/>
<circle cx="421.23" cy="628.40" r="1.25" fill="#444"/>
<circle cx="424.78" cy="628.40" r="1.25" fill="#444"/>
<circle cx="428.32" cy="628.40" r="1.25" fill="#444"/>
<circle cx="446.07" cy="626.50" r="1.25" fill="#444"/>
<circle cx="449.62" cy="626.50" r="1.25" fill="#444"/>
<circle cx="453.18" cy="626.50" r="1.25" fill="#444"/>
<circle cx="456.72" cy="626.50" r="1.25" fill="#444"/>
</svg>
</body></html>
